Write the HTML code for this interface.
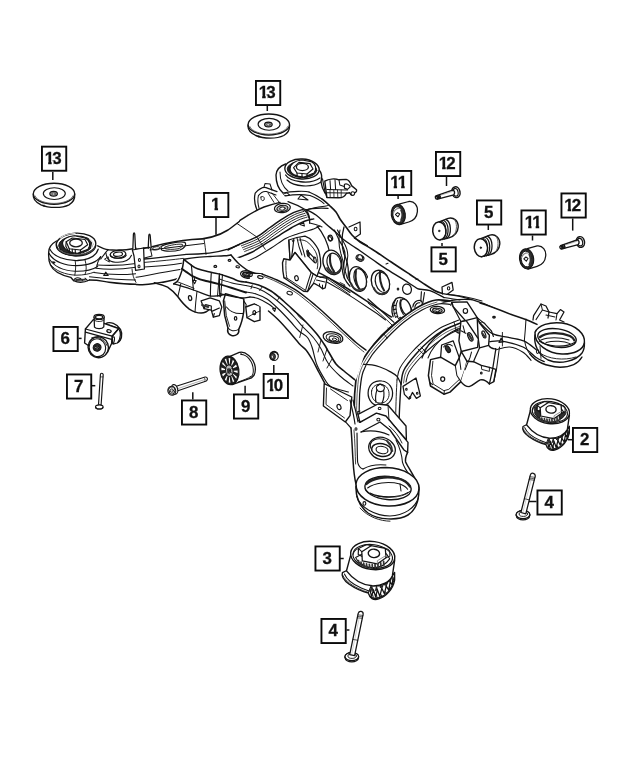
<!DOCTYPE html>
<html><head><meta charset="utf-8"><title>Rear Crossmember Diagram</title>
<style>
html,body{margin:0;padding:0;background:#fff}
body{width:640px;height:777px;overflow:hidden}
svg{display:block;will-change:transform}
.lb{font-family:"Liberation Sans",Arial,sans-serif;font-weight:bold;font-size:16.4px;fill:#111;stroke:#111;stroke-width:.3px}
path,ellipse,line{stroke-linecap:round;stroke-linejoin:round}
</style></head><body>
<svg width="640" height="777" viewBox="0 0 640 777">
<rect width="640" height="777" fill="#fff"/>
<rect x="41.95" y="146.65" width="24.30" height="24.10" fill="#fff" stroke="#0a0a0a" stroke-width="1.9"/>
<text transform="scale(1.03 1)" x="43.36 50.63" y="163.90" class="lb">13</text>
<rect x="44.26" y="161.20" width="3.89" height="3.9" fill="#fff"/>
<rect x="51.70" y="161.20" width="1.88" height="3.9" fill="#fff"/>
<line x1="52.8" y1="172.0" x2="52.8" y2="180.0" stroke="#111" stroke-width="1.5" style="stroke-linecap:butt"/>
<rect x="255.95" y="80.95" width="24.30" height="24.10" fill="#fff" stroke="#0a0a0a" stroke-width="1.9"/>
<text transform="scale(1.03 1)" x="251.12 258.40" y="98.20" class="lb">13</text>
<rect x="258.26" y="95.50" width="3.89" height="3.9" fill="#fff"/>
<rect x="265.70" y="95.50" width="1.88" height="3.9" fill="#fff"/>
<line x1="267.3" y1="106.0" x2="267.3" y2="111.0" stroke="#111" stroke-width="1.5" style="stroke-linecap:butt"/>
<rect x="204.05" y="192.95" width="24.30" height="24.10" fill="#fff" stroke="#0a0a0a" stroke-width="1.9"/>
<text transform="scale(1.03 1)" x="204.86" y="210.20" class="lb">1</text>
<rect x="210.60" y="207.50" width="3.89" height="3.9" fill="#fff"/>
<rect x="218.05" y="207.50" width="2.95" height="3.9" fill="#fff"/>
<line x1="216.0" y1="218.0" x2="216.0" y2="234.7" stroke="#111" stroke-width="1.5" style="stroke-linecap:butt"/>
<rect x="386.95" y="170.95" width="24.30" height="24.10" fill="#fff" stroke="#0a0a0a" stroke-width="1.9"/>
<text transform="scale(1.03 1)" x="378.79 386.07" y="188.20" class="lb">11</text>
<rect x="389.76" y="185.50" width="3.89" height="3.9" fill="#fff"/>
<rect x="397.20" y="185.50" width="1.88" height="3.9" fill="#fff"/>
<rect x="397.25" y="185.50" width="3.89" height="3.9" fill="#fff"/>
<rect x="404.69" y="185.50" width="2.95" height="3.9" fill="#fff"/>
<line x1="398.1" y1="196.0" x2="398.1" y2="199.0" stroke="#111" stroke-width="1.5" style="stroke-linecap:butt"/>
<rect x="435.95" y="151.95" width="24.30" height="24.10" fill="#fff" stroke="#0a0a0a" stroke-width="1.9"/>
<text transform="scale(1.03 1)" x="425.88 433.16" y="169.20" class="lb">12</text>
<rect x="438.26" y="166.50" width="3.89" height="3.9" fill="#fff"/>
<rect x="445.70" y="166.50" width="0.89" height="3.9" fill="#fff"/>
<line x1="446.5" y1="177.0" x2="446.5" y2="186.0" stroke="#111" stroke-width="1.5" style="stroke-linecap:butt"/>
<rect x="476.95" y="200.45" width="24.30" height="24.10" fill="#fff" stroke="#0a0a0a" stroke-width="1.9"/>
<text transform="scale(1.03 1)" x="469.81" y="217.70" class="lb">5</text>
<line x1="488.3" y1="225.0" x2="488.3" y2="230.0" stroke="#111" stroke-width="1.5" style="stroke-linecap:butt"/>
<rect x="431.45" y="247.35" width="24.30" height="24.10" fill="#fff" stroke="#0a0a0a" stroke-width="1.9"/>
<text transform="scale(1.03 1)" x="425.63" y="264.60" class="lb">5</text>
<line x1="442.0" y1="243.0" x2="442.0" y2="246.0" stroke="#111" stroke-width="1.5" style="stroke-linecap:butt"/>
<rect x="521.45" y="210.45" width="24.30" height="24.10" fill="#fff" stroke="#0a0a0a" stroke-width="1.9"/>
<text transform="scale(1.03 1)" x="509.38 516.65" y="227.70" class="lb">11</text>
<rect x="524.26" y="225.00" width="3.89" height="3.9" fill="#fff"/>
<rect x="531.70" y="225.00" width="1.88" height="3.9" fill="#fff"/>
<rect x="531.75" y="225.00" width="3.89" height="3.9" fill="#fff"/>
<rect x="539.19" y="225.00" width="2.95" height="3.9" fill="#fff"/>
<line x1="532.5" y1="235.5" x2="532.5" y2="240.5" stroke="#111" stroke-width="1.5" style="stroke-linecap:butt"/>
<rect x="561.45" y="193.45" width="24.30" height="24.10" fill="#fff" stroke="#0a0a0a" stroke-width="1.9"/>
<text transform="scale(1.03 1)" x="547.73 555.00" y="210.70" class="lb">12</text>
<rect x="563.76" y="208.00" width="3.89" height="3.9" fill="#fff"/>
<rect x="571.20" y="208.00" width="0.89" height="3.9" fill="#fff"/>
<line x1="572.7" y1="218.5" x2="572.7" y2="230.6" stroke="#111" stroke-width="1.5" style="stroke-linecap:butt"/>
<rect x="53.45" y="326.95" width="24.30" height="24.10" fill="#fff" stroke="#0a0a0a" stroke-width="1.9"/>
<text transform="scale(1.03 1)" x="58.64" y="344.20" class="lb">6</text>
<line x1="78.5" y1="338.4" x2="81.6" y2="338.4" stroke="#111" stroke-width="1.5" style="stroke-linecap:butt"/>
<rect x="66.95" y="374.45" width="24.30" height="24.10" fill="#fff" stroke="#0a0a0a" stroke-width="1.9"/>
<text transform="scale(1.03 1)" x="71.75" y="391.70" class="lb">7</text>
<line x1="92.0" y1="385.7" x2="95.3" y2="385.7" stroke="#111" stroke-width="1.5" style="stroke-linecap:butt"/>
<rect x="181.95" y="400.45" width="24.30" height="24.10" fill="#fff" stroke="#0a0a0a" stroke-width="1.9"/>
<text transform="scale(1.03 1)" x="183.40" y="417.70" class="lb">8</text>
<line x1="192.8" y1="392.3" x2="192.8" y2="399.5" stroke="#111" stroke-width="1.5" style="stroke-linecap:butt"/>
<rect x="233.95" y="394.45" width="24.30" height="24.10" fill="#fff" stroke="#0a0a0a" stroke-width="1.9"/>
<text transform="scale(1.03 1)" x="233.89" y="411.70" class="lb">9</text>
<line x1="245.1" y1="385.8" x2="245.1" y2="393.5" stroke="#111" stroke-width="1.5" style="stroke-linecap:butt"/>
<rect x="263.65" y="373.95" width="24.30" height="24.10" fill="#fff" stroke="#0a0a0a" stroke-width="1.9"/>
<text transform="scale(1.03 1)" x="258.60 265.87" y="391.20" class="lb">10</text>
<rect x="265.96" y="388.50" width="3.89" height="3.9" fill="#fff"/>
<rect x="273.40" y="388.50" width="1.88" height="3.9" fill="#fff"/>
<line x1="273.8" y1="365.0" x2="273.8" y2="373.0" stroke="#111" stroke-width="1.5" style="stroke-linecap:butt"/>
<rect x="572.95" y="427.95" width="24.30" height="24.10" fill="#fff" stroke="#0a0a0a" stroke-width="1.9"/>
<text transform="scale(1.03 1)" x="563.01" y="445.20" class="lb">2</text>
<line x1="568.0" y1="439.7" x2="572.0" y2="439.7" stroke="#111" stroke-width="1.5" style="stroke-linecap:butt"/>
<rect x="537.45" y="490.45" width="24.30" height="24.10" fill="#fff" stroke="#0a0a0a" stroke-width="1.9"/>
<text transform="scale(1.03 1)" x="528.55" y="507.70" class="lb">4</text>
<line x1="528.8" y1="501.5" x2="536.5" y2="501.5" stroke="#111" stroke-width="1.5" style="stroke-linecap:butt"/>
<rect x="315.45" y="546.45" width="24.30" height="24.10" fill="#fff" stroke="#0a0a0a" stroke-width="1.9"/>
<text transform="scale(1.03 1)" x="313.01" y="563.70" class="lb">3</text>
<line x1="340.0" y1="558.5" x2="343.7" y2="558.5" stroke="#111" stroke-width="1.5" style="stroke-linecap:butt"/>
<rect x="321.45" y="618.95" width="24.30" height="24.10" fill="#fff" stroke="#0a0a0a" stroke-width="1.9"/>
<text transform="scale(1.03 1)" x="318.84" y="636.20" class="lb">4</text>
<line x1="346.5" y1="630.0" x2="349.4" y2="630.0" stroke="#111" stroke-width="1.5" style="stroke-linecap:butt"/>
<path d="M 33.3 194.3 C 32.8 197.8 35 201.8 41 204.8 C 49 208.3 62 208.3 69 204.8 C 73.5 202.3 75 198.8 74.7 194.3" fill="none" stroke="#141414" stroke-width="1.38" />
<ellipse cx="54.0" cy="193.8" rx="20.7" ry="10.5" fill="#fff" stroke="#141414" stroke-width="1.38"/>
<path d="M 35 195.8 C 37 200.8 46 203.4 54 203.4 C 62 203.4 71 200.8 73 195.8" fill="none" stroke="#555" stroke-width="0.8" />
<path d="M 44 205 L 44 206.4" fill="none" stroke="#141414" stroke-width="0.8" />
<ellipse cx="54.3" cy="193.6" rx="11.0" ry="5.9" fill="none" stroke="#141414" stroke-width="1.15"/>
<ellipse cx="53.6" cy="193.8" rx="3.8" ry="2.4" fill="#999" stroke="#141414" stroke-width="1.15"/>
<ellipse cx="53.6" cy="194.0" rx="1.8" ry="1.1" fill="#ddd" stroke="#444" stroke-width="0.8"/>
<path d="M 248.1 125 C 247.6 128.5 249.8 132.5 255.8 135.5 C 263.8 139 276.8 139 283.8 135.5 C 288.3 133 289.8 129.5 289.5 125" fill="none" stroke="#141414" stroke-width="1.38" />
<ellipse cx="268.8" cy="124.5" rx="20.7" ry="10.5" fill="#fff" stroke="#141414" stroke-width="1.38"/>
<path d="M 249.8 126.5 C 251.8 131.5 260.8 134.1 268.8 134.1 C 276.8 134.1 285.8 131.5 287.8 126.5" fill="none" stroke="#555" stroke-width="0.8" />
<path d="M 258.8 135.7 L 258.8 137.1" fill="none" stroke="#141414" stroke-width="0.8" />
<ellipse cx="269.1" cy="124.3" rx="11.0" ry="5.9" fill="none" stroke="#141414" stroke-width="1.15"/>
<ellipse cx="268.4" cy="124.5" rx="3.8" ry="2.4" fill="#999" stroke="#141414" stroke-width="1.15"/>
<ellipse cx="268.4" cy="124.7" rx="1.8" ry="1.1" fill="#ddd" stroke="#444" stroke-width="0.8"/>
<path d="M 399 204.2 L 408.8 201.5 C 414.5 200.8 418 206 417.4 211.6 C 416.8 217.3 413 220.8 408.8 222 L 399.7 224.7 Z" fill="#fff" stroke="#141414" stroke-width="1.26" />
<ellipse cx="398.3" cy="214.5" rx="7.0" ry="10.1" fill="#2a2a2a" stroke="#141414" stroke-width="1.15" transform="rotate(-8 398.3 214.5)"/>
<ellipse cx="398.0" cy="214.6" rx="5.1" ry="7.9" fill="#fff" stroke="#141414" stroke-width="0.92" transform="rotate(-8 398.0 214.6)"/>
<path d="M 393.4 213 C 394.1 210.2 396.9 208.1 399.7 208.5" fill="none" stroke="#888" stroke-width="1.15" />
<path d="M 395.5 214.5 L 397.6 212.6 L 399.7 214 L 398 216.8 Z" fill="#fff" stroke="#141414" stroke-width="1.03" />
<path d="M 401.1 210.2 C 402.5 213 402.5 217.3 401.1 220.1" fill="none" stroke="#333" stroke-width="1.84" />
<ellipse cx="455.9" cy="192.2" rx="4.1" ry="5.4" fill="#fff" stroke="#141414" stroke-width="1.49" transform="rotate(-12 455.9 192.2)"/>
<ellipse cx="455.5" cy="192.3" rx="2.6" ry="3.8" fill="#fff" stroke="#141414" stroke-width="1.15" transform="rotate(-12 455.5 192.3)"/>
<path d="M 436 195.9 L 452.5 190.2 C 454.2 190 455.5 192.5 453.8 194.8 L 437.5 199.1 C 435.5 199.5 434.6 196.9 436 195.9 Z" fill="#fff" stroke="#141414" stroke-width="1.38" />
<path d="M 436.4 196.1 C 437.4 196.9 437.7 198.1 437.4 198.9 M 438 195.6 C 438.8 196.4 439 197.6 438.8 198.6 M 439.6 195.1 C 440.2 195.9 440.5 197 440.2 198.1" fill="none" stroke="#141414" stroke-width="1.49" />
<path d="M 441.4 195 L 452.7 191.4" fill="none" stroke="#888" stroke-width="0.57" />
<path d="M 439.1 221.9 L 448.2 218.3 C 453.8 216.8 458.5 221.1 458.2 227.1 C 457.8 233.2 453.1 236.5 448.9 237.9 L 440.2 239.9 Z" fill="#fff" stroke="#141414" stroke-width="1.38" />
<ellipse cx="439.3" cy="230.9" rx="6.6" ry="9.0" fill="#fff" stroke="#141414" stroke-width="1.49" transform="rotate(-6 439.3 230.9)"/>
<path d="M 443.6 220.5 C 448.9 222.9 449.8 234.6 444.7 239.1" fill="none" stroke="#141414" stroke-width="1.26" />
<path d="M 445.8 219.4 C 451.4 221.9 452 234.1 446.9 238.5" fill="none" stroke="#141414" stroke-width="1.26" />
<path d="M 441.6 221.3 C 446.9 223.6 447.5 235.1 442.7 239.6" fill="none" stroke="#141414" stroke-width="1.03" />
<path d="M 454.3 219.4 C 457.3 222.5 457.3 230.6 454.1 235.1" fill="none" stroke="#555" stroke-width="0.92" />
<ellipse cx="439.2" cy="230.9" rx="0.8" ry="0.9" fill="#222" stroke="#141414" stroke-width="0.57"/>
<path d="M 480.7 238.7 L 489.8 235.1 C 495.4 233.6 500.1 237.9 499.8 243.9 C 499.4 250 494.7 253.3 490.5 254.7 L 481.8 256.7 Z" fill="#fff" stroke="#141414" stroke-width="1.38" />
<ellipse cx="480.9" cy="247.7" rx="6.6" ry="9.0" fill="#fff" stroke="#141414" stroke-width="1.49" transform="rotate(-6 480.9 247.7)"/>
<path d="M 485.2 237.3 C 490.5 239.7 491.4 251.4 486.3 255.9" fill="none" stroke="#141414" stroke-width="1.26" />
<path d="M 487.4 236.2 C 493 238.7 493.6 250.9 488.5 255.3" fill="none" stroke="#141414" stroke-width="1.26" />
<path d="M 483.2 238.1 C 488.5 240.4 489.1 251.9 484.3 256.4" fill="none" stroke="#141414" stroke-width="1.03" />
<path d="M 495.9 236.2 C 498.9 239.3 498.9 247.4 495.7 251.9" fill="none" stroke="#555" stroke-width="0.92" />
<ellipse cx="480.8" cy="247.7" rx="0.8" ry="0.9" fill="#222" stroke="#141414" stroke-width="0.57"/>
<path d="M 527.3 248.6 L 537.1 245.9 C 542.8 245.2 546.3 250.4 545.7 256 C 545.1 261.7 541.3 265.2 537.1 266.4 L 528 269.1 Z" fill="#fff" stroke="#141414" stroke-width="1.26" />
<ellipse cx="526.6" cy="258.9" rx="7.0" ry="10.1" fill="#2a2a2a" stroke="#141414" stroke-width="1.15" transform="rotate(-8 526.6 258.9)"/>
<ellipse cx="526.3" cy="259.0" rx="5.1" ry="7.9" fill="#fff" stroke="#141414" stroke-width="0.92" transform="rotate(-8 526.3 259.0)"/>
<path d="M 521.7 257.4 C 522.4 254.6 525.2 252.5 528 252.9" fill="none" stroke="#888" stroke-width="1.15" />
<path d="M 523.8 258.9 L 525.9 257 L 528 258.4 L 526.3 261.2 Z" fill="#fff" stroke="#141414" stroke-width="1.03" />
<path d="M 529.4 254.6 C 530.8 257.4 530.8 261.7 529.4 264.5" fill="none" stroke="#333" stroke-width="1.84" />
<ellipse cx="580.4" cy="242.0" rx="4.1" ry="5.4" fill="#fff" stroke="#141414" stroke-width="1.49" transform="rotate(-12 580.4 242.0)"/>
<ellipse cx="580.0" cy="242.1" rx="2.6" ry="3.8" fill="#fff" stroke="#141414" stroke-width="1.15" transform="rotate(-12 580.0 242.1)"/>
<path d="M 560.5 245.7 L 577 240 C 578.8 239.8 580 242.3 578.2 244.6 L 562 248.9 C 560 249.3 559.1 246.7 560.5 245.7 Z" fill="#fff" stroke="#141414" stroke-width="1.38" />
<path d="M 560.9 245.9 C 561.9 246.7 562.2 247.9 561.9 248.7 M 562.5 245.4 C 563.2 246.2 563.5 247.4 563.2 248.4 M 564.1 244.9 C 564.8 245.7 565 246.8 564.8 247.9" fill="none" stroke="#141414" stroke-width="1.49" />
<path d="M 565.9 244.8 L 577.2 241.2" fill="none" stroke="#888" stroke-width="0.57" />
<path d="M 105.5 323.8 C 109.7 321 117.2 323.8 120.5 329.4 C 122.9 334.1 121.9 340.7 117.2 343 L 113 344.2 L 112.1 336.2 L 118.7 328.5 Z" fill="#fff" stroke="#141414" stroke-width="1.26" />
<path d="M 118.7 328.5 C 120.8 332.2 120.8 337.9 117.7 342.7" fill="none" stroke="#141414" stroke-width="1.15" />
<path d="M 119.9 330.6 C 121.7 334.1 121.5 338.8 119.3 341.6" fill="none" stroke="#141414" stroke-width="0.92" />
<path d="M 85.4 329 L 93.3 319.6 L 118.7 328.5 L 112.1 336.2 L 111.6 343.5 L 107.4 352.4 L 88.7 345.8 L 84.6 343 Z" fill="#fff" stroke="#141414" stroke-width="1.38" />
<path d="M 85.4 329 L 112.1 336.2" fill="none" stroke="#141414" stroke-width="1.26" />
<path d="M 85.4 332.1 L 111.6 339.4" fill="none" stroke="#141414" stroke-width="1.15" />
<path d="M 112.1 336.2 L 118.7 328.5" fill="none" stroke="#141414" stroke-width="1.15" />
<ellipse cx="113.3" cy="340.2" rx="1.1" ry="3.4" fill="none" stroke="#141414" stroke-width="1.03" transform="rotate(8 113.3 340.2)"/>
<ellipse cx="109.0" cy="331.1" rx="2.2" ry="1.4" fill="#fff" stroke="#141414" stroke-width="1.15" transform="rotate(15 109.0 331.1)"/>
<path d="M 107.1 331.5 C 107.9 332.6 109.9 332.8 110.9 331.9" fill="none" stroke="#141414" stroke-width="0.8" />
<path d="M 94.1 317.1 L 94.5 327.1 C 96.2 329.2 102.2 329.2 103.8 326.8 L 104.1 317.1 Z" fill="#fff" stroke="#141414" stroke-width="1.26" />
<ellipse cx="99.1" cy="316.9" rx="5.1" ry="2.5" fill="#fff" stroke="#141414" stroke-width="1.26"/>
<ellipse cx="99.1" cy="317.1" rx="3.6" ry="1.8" fill="#fff" stroke="#141414" stroke-width="1.15"/>
<path d="M 94.3 320.1 C 96.2 322.1 102.2 322.1 104 319.9" fill="none" stroke="#141414" stroke-width="0.92" />
<ellipse cx="98.3" cy="347.2" rx="10.1" ry="10.5" fill="#fff" stroke="#141414" stroke-width="1.38" transform="rotate(-20 98.3 347.2)"/>
<ellipse cx="97.4" cy="347.7" rx="8.2" ry="9.0" fill="#fff" stroke="#141414" stroke-width="1.15" transform="rotate(-20 97.4 347.7)"/>
<path d="M 91.5 337.9 C 96.6 335.5 104.1 338.8 106.9 345.4" fill="none" stroke="#141414" stroke-width="0.92" />
<ellipse cx="97.1" cy="347.4" rx="3.9" ry="3.7" fill="#333" stroke="#141414" stroke-width="1.15" transform="rotate(-20 97.1 347.4)"/>
<ellipse cx="97.1" cy="347.4" rx="2.1" ry="1.9" fill="#ddd" stroke="#141414" stroke-width="0.92"/>
<path d="M 95.2 345.8 L 99 349.1 M 99 345.8 L 95.2 349.1" fill="none" stroke="#141414" stroke-width="1.15" />
<path d="M 100.4 374.6 C 100.4 372.8 103 372.8 103.2 374.6 L 101.1 405 L 98.5 405 Z" fill="#fff" stroke="#141414" stroke-width="1.15" />
<path d="M 100.4 376.9 L 103 376.9" fill="none" stroke="#141414" stroke-width="0.69" />
<ellipse cx="99.3" cy="406.9" rx="3.8" ry="2.1" fill="#fff" stroke="#141414" stroke-width="1.15"/>
<path d="M 95.9 407.3 C 96.3 409.5 102.3 409.5 102.8 407.3" fill="none" stroke="#141414" stroke-width="1.15" />
<path d="M 230 356.3 L 239.3 352.4 C 244.8 351 253.6 357 255.2 366.9 C 256 373.4 253.6 377.8 248.6 378.9 L 232.2 384.6 Z" fill="#fff" stroke="#141414" stroke-width="1.26" />
<path d="M 240.7 354.6 C 247 354.3 252.7 361.4 253.3 369.6 C 253.6 373.7 252.2 376.2 250.3 376.9" fill="none" stroke="#141414" stroke-width="1.03" />
<path d="M 239.3 352.4 C 240.7 352.7 241.5 353.5 242.1 354.6" fill="none" stroke="#141414" stroke-width="0.92" />
<path d="M 238.2 382 C 243.7 380 248.1 378.4 250.5 376.7" fill="none" stroke="#141414" stroke-width="0.92" />
<ellipse cx="229.5" cy="370.4" rx="9.4" ry="14.4" fill="#1e1e1e" stroke="#141414" stroke-width="1.15" transform="rotate(-8 229.5 370.4)"/>
<path d="M 233.4 370.7 L 237.6 370.6 L 237.6 373.1 L 233.4 371.5 Z" fill="#fff" stroke="none" stroke-width="0.0" />
<path d="M 233.1 373.8 L 236.9 376.8 L 236.2 378.8 L 232.9 374.3 Z" fill="#fff" stroke="none" stroke-width="0.0" />
<path d="M 231.7 375.8 L 234.3 381.2 L 232.9 382.2 L 231.2 376.1 Z" fill="#fff" stroke="none" stroke-width="0.0" />
<path d="M 229.7 376.4 L 230.4 382.7 L 228.7 382.5 L 229.3 376.4 Z" fill="#fff" stroke="none" stroke-width="0.0" />
<path d="M 227.7 375.4 L 226.2 381 L 224.8 379.6 L 227.3 375 Z" fill="#fff" stroke="none" stroke-width="0.0" />
<path d="M 226.2 373.1 L 222.9 376.4 L 222.1 374.1 L 225.9 372.5 Z" fill="#fff" stroke="none" stroke-width="0.0" />
<path d="M 225.6 370 L 221.4 370.2 L 221.4 367.6 L 225.6 369.3 Z" fill="#fff" stroke="none" stroke-width="0.0" />
<path d="M 225.9 367 L 222.1 363.9 L 222.8 362 L 226.1 366.4 Z" fill="#fff" stroke="none" stroke-width="0.0" />
<path d="M 227.3 364.9 L 224.7 359.5 L 226.1 358.6 L 227.7 364.7 Z" fill="#fff" stroke="none" stroke-width="0.0" />
<path d="M 229.3 364.4 L 228.6 358 L 230.3 358.2 L 229.7 364.4 Z" fill="#fff" stroke="none" stroke-width="0.0" />
<path d="M 231.2 365.3 L 232.8 359.8 L 234.2 361.2 L 231.7 365.8 Z" fill="#fff" stroke="none" stroke-width="0.0" />
<path d="M 232.8 367.6 L 236.1 364.4 L 236.9 366.7 L 233.1 368.3 Z" fill="#fff" stroke="none" stroke-width="0.0" />
<ellipse cx="229.3" cy="370.7" rx="3.7" ry="5.7" fill="#bbb" stroke="#141414" stroke-width="1.03" transform="rotate(-8 229.3 370.7)"/>
<ellipse cx="229.1" cy="371.0" rx="1.6" ry="2.4" fill="#555" stroke="#141414" stroke-width="0.69" transform="rotate(-8 229.1 371.0)"/>
<path d="M 226.8 368.5 L 231.7 372.9 M 227.3 373.4 L 231.5 368.2" fill="none" stroke="#141414" stroke-width="0.8" />
<ellipse cx="274.1" cy="355.9" rx="4.2" ry="4.6" fill="#fff" stroke="#141414" stroke-width="1.15"/>
<path d="M 270.3 354.6 C 271.1 351.6 276.5 351 277.8 354.6" fill="none" stroke="#141414" stroke-width="1.03" />
<ellipse cx="272.7" cy="356.5" rx="2.6" ry="3.1" fill="#555" stroke="#141414" stroke-width="1.03"/>
<ellipse cx="272.5" cy="356.8" rx="1.2" ry="1.5" fill="#ddd" stroke="#141414" stroke-width="0.57"/>
<path d="M 176.3 386.3 L 205.1 377 C 207.5 376.6 208.3 379.8 206.3 381 L 177.9 390.8 Z" fill="#fff" stroke="#141414" stroke-width="1.15" />
<path d="M 203.7 377.4 C 205.1 378.6 205.5 380.2 204.7 381.4" fill="none" stroke="#141414" stroke-width="0.69" />
<path d="M 177.3 388.8 L 205.7 379.2" fill="none" stroke="#777" stroke-width="0.57" />
<ellipse cx="174.6" cy="389.4" rx="3.0" ry="4.9" fill="#fff" stroke="#141414" stroke-width="1.15" transform="rotate(-15 174.6 389.4)"/>
<ellipse cx="171.8" cy="390.8" rx="3.9" ry="4.5" fill="#fff" stroke="#141414" stroke-width="1.15" transform="rotate(-15 171.8 390.8)"/>
<path d="M 168.5 389.2 L 170.6 386.7 L 173.8 387.1 L 175.2 390.4 L 173.4 394 L 170.2 394 Z" fill="#fff" stroke="#141414" stroke-width="1.03" />
<ellipse cx="171.8" cy="390.6" rx="1.6" ry="1.8" fill="#ccc" stroke="#141414" stroke-width="0.8"/>
<path d="M 526.9 424.5 L 523 426.5 C 522 429.2 524.1 433.1 529 436.8 C 534.8 440.9 541.6 443.6 546 444.5 C 547.3 449.1 550.4 451.4 555.2 449.8 C 562.1 447.7 567.9 440.9 569.3 433.1 L 569.3 426.3 L 567.4 429.2 Z" fill="#fff" stroke="#141414" stroke-width="1.38" />
<path d="M 524.7 427.6 C 526.6 432.1 532.9 437.2 539.7 440.1 C 542.6 441.3 545 442.3 546.7 442.8" fill="none" stroke="#141414" stroke-width="1.03" />
<path d="M 523.4 429 C 525.3 433.6 532.4 438.7 539.7 441.6 C 542.4 442.8 544.6 443.6 546 444" fill="none" stroke="#141414" stroke-width="0.8" />
<path d="M 546 444.4 C 547.5 448.6 550.4 450.4 555.1 449 C 561.3 447.1 567.1 440.7 568.7 433.6 L 567.4 429.2 C 565.5 434 561.1 437.5 555.2 438.4 L 548.4 438.1 Z" fill="#fff" stroke="#141414" stroke-width="1.03" />
<path d="M 547.7 442.8 L 548.9 447.5 L 550.6 441.8 L 552.5 448 L 554.1 441.6 L 556.2 447.5 L 558 440.4 L 560.3 445.2 L 561.9 438.4 L 564.2 442 L 565.5 434.5 L 567.1 437.5 L 567.9 431.1" fill="none" stroke="#141414" stroke-width="1.26" />
<path d="M 547.7 442.8 L 549 438.9 L 550.6 441.8 Z M 552.5 442.3 L 554.1 441.6 L 553.3 438.9 Z M 558 440.4 L 559.1 437.9 L 556.4 438.9 Z M 561.9 438.4 L 563.2 435.2 L 560.6 437 Z M 565.5 434.5 L 566.4 431.6 L 564.5 433.6 Z" fill="#333" stroke="#141414" stroke-width="0.92" />
<path d="M 548.4 448.6 C 551.4 449.8 555.2 448.8 558.2 447.2 M 549.9 446.2 L 550.4 448.6 M 553.3 446.7 L 553.8 449.2 M 557.2 445.7 L 558 447.7 M 561.1 443.3 L 562.1 444.9 M 564.5 439.9 L 565.7 441" fill="none" stroke="#141414" stroke-width="0.92" />
<path d="M 530.5 410.2 L 526.6 424.8 C 532.9 433.1 541.6 437.5 549.4 438.1 C 558.2 438.4 565 434.5 567.4 429.2 L 569.4 415.1 Z" fill="#fff" stroke="#141414" stroke-width="1.38" />
<ellipse cx="549.9" cy="411.2" rx="19.7" ry="12.4" fill="#fff" stroke="#141414" stroke-width="1.38" transform="rotate(8 549.9 411.2)"/>
<ellipse cx="549.9" cy="412.0" rx="17.7" ry="10.5" fill="#fff" stroke="#141414" stroke-width="1.15" transform="rotate(8 549.9 412.0)"/>
<path d="M 534.6 412.9 C 536.3 417 541.6 420.6 548.4 421.9 C 555.2 422.6 561.3 419.5 565 414.1 L 562.1 409.7 L 540.7 409.7 Z" fill="#fff" stroke="#141414" stroke-width="1.15" />
<path d="M 537.3 415.8 L 537.6 418.5 M 539.5 417 L 539.9 420 M 541.8 418 L 542.2 421 M 544.4 418.7 L 544.7 421.6 M 546.9 419.1 L 547.3 421.9 M 549.4 419.3 L 549.6 422.2 M 551.9 419.1 L 552.1 422.2 M 554.5 418.7 L 554.7 421.8 M 557 417.7 L 557.2 421 M 559.5 416.4 L 559.7 419.9" fill="none" stroke="#333" stroke-width="1.72" />
<path d="M 534.3 407.3 C 533.7 411.2 535.3 415.1 539.2 418 L 540.7 415.8 L 540.2 411.9 L 537 410.2 L 537.2 405.9 Z" fill="#2e2e2e" stroke="#141414" stroke-width="0.69" />
<path d="M 565.2 411.7 L 561.7 413.2 L 559.1 415.4 L 560.6 419 C 563.5 417.5 565.5 415.1 566.1 412.7 Z" fill="#2e2e2e" stroke="#141414" stroke-width="0.69" />
<path d="M 540.2 407.8 L 548.4 402.5 L 561.1 404.9 L 561.7 413.2 L 553.9 418.7 L 540.7 416 Z" fill="#fff" stroke="#141414" stroke-width="1.26" />
<path d="M 548.4 402.5 L 544.6 401.4 L 537.3 405.1 L 537 410.2 L 540.2 411.9" fill="none" stroke="#141414" stroke-width="1.15" />
<path d="M 537.3 405.1 L 540.2 407.8" fill="none" stroke="#141414" stroke-width="1.03" />
<path d="M 561.1 404.9 C 562.8 404.9 564.2 405.9 565 407.3 L 565.2 411.7 L 561.7 413.2" fill="none" stroke="#141414" stroke-width="1.03" />
<path d="M 532.4 410.2 C 533.1 407.8 534.8 405.9 537.3 404.9" fill="none" stroke="#141414" stroke-width="0.92" />
<ellipse cx="551.0" cy="409.4" rx="5.1" ry="3.7" fill="#fff" stroke="#141414" stroke-width="1.38" transform="rotate(5 551.0 409.4)"/>
<path d="M 553.9 418.7 L 554.1 415.8 L 561.7 411.2" fill="none" stroke="#777" stroke-width="0.8" />
<ellipse cx="523.0" cy="514.8" rx="6.8" ry="4.1" fill="#fff" stroke="#141414" stroke-width="1.26"/>
<path d="M 516.2 515.1 C 516.5 521.6 529.5 521.6 529.8 515.1" fill="#fff" stroke="#141414" stroke-width="1.26" />
<ellipse cx="523.0" cy="514.6" rx="6.8" ry="4.1" fill="#fff" stroke="#141414" stroke-width="1.26"/>
<ellipse cx="523.3" cy="514.0" rx="4.2" ry="2.4" fill="#fff" stroke="#141414" stroke-width="0.92"/>
<path d="M 535.2 476.4 C 535.7 473.1 531.4 472 530.3 475.1 L 520.9 512.5 L 525.8 513.8 Z" fill="#fff" stroke="#141414" stroke-width="1.26" />
<path d="M 534.9 477.3 L 529.9 476.7" fill="none" stroke="#141414" stroke-width="0.69" />
<path d="M 534.6 478.8 L 529.6 478.2" fill="none" stroke="#141414" stroke-width="0.69" />
<path d="M 534.2 480.2 L 529.2 479.6" fill="none" stroke="#141414" stroke-width="0.69" />
<path d="M 529.3 499.9 L 524.4 498.7" fill="none" stroke="#141414" stroke-width="0.8" />
<path d="M 531.8 477.1 L 523.1 511.5" fill="none" stroke="#999" stroke-width="0.46" />
<ellipse cx="351.8" cy="656.8" rx="6.8" ry="4.1" fill="#fff" stroke="#141414" stroke-width="1.26"/>
<path d="M 345 657.1 C 345.3 663.6 358.3 663.6 358.6 657.1" fill="#fff" stroke="#141414" stroke-width="1.26" />
<ellipse cx="351.8" cy="656.6" rx="6.8" ry="4.1" fill="#fff" stroke="#141414" stroke-width="1.26"/>
<ellipse cx="352.1" cy="656.0" rx="4.2" ry="2.4" fill="#fff" stroke="#141414" stroke-width="0.92"/>
<path d="M 363.1 614.4 C 363.6 611.1 359.2 610.2 358.2 613.4 L 349.7 654.6 L 354.6 655.6 Z" fill="#fff" stroke="#141414" stroke-width="1.26" />
<path d="M 362.9 615.4 L 357.9 614.9" fill="none" stroke="#141414" stroke-width="0.69" />
<path d="M 362.6 616.8 L 357.6 616.4" fill="none" stroke="#141414" stroke-width="0.69" />
<path d="M 362.3 618.3 L 357.3 617.9" fill="none" stroke="#141414" stroke-width="0.69" />
<path d="M 357.7 640.3 L 352.8 639.3" fill="none" stroke="#141414" stroke-width="0.8" />
<path d="M 359.8 615.2 L 351.8 653.5" fill="none" stroke="#999" stroke-width="0.46" />
<path d="M 346.8 570.5 L 342.4 572.7 C 341.3 575.7 343.7 580.1 349.2 584.3 C 355.8 588.9 363.4 591.9 368.4 593 C 369.8 598.2 373.3 600.7 378.7 598.9 C 386.4 596.5 393 588.9 394.6 580.1 L 394.6 572.5 L 392.4 575.7 Z" fill="#fff" stroke="#141414" stroke-width="1.38" />
<path d="M 344.4 574 C 346.5 579 353.6 584.7 361.2 588 C 364.5 589.4 367.3 590.5 369.1 591.1" fill="none" stroke="#141414" stroke-width="1.03" />
<path d="M 342.9 575.5 C 345.1 580.7 353 586.5 361.2 589.7 C 364.3 591.1 366.7 591.9 368.4 592.4" fill="none" stroke="#141414" stroke-width="0.8" />
<path d="M 368.4 592.8 C 370 597.6 373.3 599.6 378.5 598.1 C 385.5 595.9 392.1 588.7 393.8 580.7 L 392.4 575.7 C 390.2 581.2 385.3 585 378.7 586.1 L 371.1 585.8 Z" fill="#fff" stroke="#141414" stroke-width="1.03" />
<path d="M 370.2 591.1 L 371.6 596.3 L 373.5 590 L 375.7 597 L 377.4 589.7 L 379.8 596.3 L 381.8 588.3 L 384.4 593.8 L 386.2 586.1 L 388.8 590.2 L 390.2 581.8 L 392.1 585 L 393 577.9" fill="none" stroke="#141414" stroke-width="1.26" />
<path d="M 370.2 591.1 L 371.7 586.7 L 373.5 590 Z M 375.7 590.5 L 377.4 589.7 L 376.6 586.7 Z M 381.8 588.3 L 383.1 585.6 L 380.1 586.7 Z M 386.2 586.1 L 387.7 582.5 L 384.8 584.5 Z M 390.2 581.8 L 391.3 578.5 L 389.1 580.7 Z" fill="#333" stroke="#141414" stroke-width="0.92" />
<path d="M 371.1 597.6 C 374.4 598.9 378.7 597.8 382 596 M 372.7 594.9 L 373.3 597.6 M 376.6 595.4 L 377.1 598.3 M 380.9 594.3 L 381.8 596.5 M 385.3 591.6 L 386.4 593.5 M 389.1 587.8 L 390.6 589.1" fill="none" stroke="#141414" stroke-width="0.92" />
<path d="M 350.9 554.4 L 346.5 570.8 C 353.6 580.1 363.4 585 372.2 585.8 C 382 586.1 389.7 581.8 392.4 575.7 L 394.7 559.9 Z" fill="#fff" stroke="#141414" stroke-width="1.38" />
<ellipse cx="372.7" cy="555.5" rx="22.2" ry="14.0" fill="#fff" stroke="#141414" stroke-width="1.38" transform="rotate(8 372.7 555.5)"/>
<ellipse cx="372.7" cy="556.4" rx="19.9" ry="11.8" fill="#fff" stroke="#141414" stroke-width="1.15" transform="rotate(8 372.7 556.4)"/>
<path d="M 355.6 557.4 C 357.4 562.1 363.4 566.1 371.1 567.5 C 378.7 568.3 385.5 564.8 389.7 558.8 L 386.4 553.9 L 362.3 553.9 Z" fill="#fff" stroke="#141414" stroke-width="1.15" />
<path d="M 358.5 560.7 L 358.8 563.7 M 361 562.1 L 361.5 565.4 M 363.7 563.2 L 364.1 566.6 M 366.5 563.9 L 366.9 567.2 M 369.3 564.4 L 369.8 567.5 M 372.2 564.6 L 372.4 567.9 M 375 564.4 L 375.2 567.9 M 377.9 563.9 L 378.1 567.4 M 380.7 562.8 L 380.9 566.6 M 383.6 561.3 L 383.8 565.2" fill="none" stroke="#333" stroke-width="1.72" />
<path d="M 361.8 551.7 L 371.1 545.7 L 385.3 548.4 L 386 557.8 L 377.2 563.9 L 362.3 560.9 Z" fill="#fff" stroke="#141414" stroke-width="1.26" />
<path d="M 371.1 545.7 L 366.7 544.5 L 358.5 548.6 L 358.2 554.4 L 361.8 556.3" fill="none" stroke="#141414" stroke-width="1.15" />
<path d="M 358.5 548.6 L 361.8 551.7" fill="none" stroke="#141414" stroke-width="1.03" />
<path d="M 385.3 548.4 C 387.3 548.4 388.8 549.5 389.7 551.1 L 389.9 556.1 L 386 557.8" fill="none" stroke="#141414" stroke-width="1.03" />
<path d="M 353 554.4 C 353.8 551.7 355.8 549.5 358.5 548.4" fill="none" stroke="#141414" stroke-width="0.92" />
<ellipse cx="373.9" cy="553.4" rx="5.7" ry="4.2" fill="#fff" stroke="#141414" stroke-width="1.38" transform="rotate(5 373.9 553.4)"/>
<path d="M 377.2 563.9 L 377.4 560.7 L 386 555.5" fill="none" stroke="#777" stroke-width="0.8" />
<path d="M 49.3 249.2 C 50.5 242.5 58 236.5 67 234.2 C 79 232 92.5 236.5 97.7 245.5 L 106 249.2 L 136 249.2 L 136 284.5 L 107.5 282.2 L 89.5 278.8 L 87.7 280.7 L 76 282.2 L 70.7 277.7 C 59.5 275.5 51.2 271 49.3 262 Z" fill="#fff" stroke="none" stroke-width="0.0" />
<path d="M 56.5 241 C 51.2 244 48.7 248.5 48.7 252.2 C 48.4 257.5 49 262 50.5 265 C 53.5 271.7 62.5 275.5 70.7 277.3 L 73.7 280.7 C 79 283.3 85 282.2 89.5 280" fill="none" stroke="#141414" stroke-width="1.38" />
<path d="M 73.7 280.7 C 74.5 277.7 77.5 277 80.5 278.5 M 80.5 278.5 L 82.7 280.7 M 85 278.2 L 87.7 280.7" fill="none" stroke="#141414" stroke-width="1.03" />
<path d="M 76 280 L 85 279.7" fill="none" stroke="#333" stroke-width="1.84" />
<path d="M 49.9 249.2 C 53.5 256.7 65.5 260.8 77.5 260.5 C 88 259.9 96.2 256 98.2 249.2" fill="none" stroke="#141414" stroke-width="1.26" />
<path d="M 49 253.3 C 53.5 262 65.5 265.7 76.7 265.7 C 88 265.4 97 262 100.7 256.7" fill="none" stroke="#141414" stroke-width="1.26" />
<path d="M 49.3 259 C 54.2 266.5 64 270.7 75.2 271.3 C 85 271.6 92.5 269.8 97.7 266.5" fill="none" stroke="#141414" stroke-width="1.03" />
<path d="M 50.2 264.2 C 55 271 65.5 274.7 76 275.2 C 83.5 275.2 89.5 274 94 272.2" fill="none" stroke="#141414" stroke-width="0.92" />
<path d="M 52.7 261.7 L 55 262.3 L 53.8 263.5 Z" fill="none" stroke="#141414" stroke-width="1.03" />
<path d="M 75.2 260.8 C 76 265 75.7 271 74.8 275.2" fill="none" stroke="#141414" stroke-width="0.92" />
<path d="M 85 259.7 C 86.5 265 86.8 271 85 274.6" fill="none" stroke="#141414" stroke-width="0.92" />
<ellipse cx="76.0" cy="244.3" rx="19.8" ry="11.1" fill="#fff" stroke="#141414" stroke-width="1.38" transform="rotate(-3 76.0 244.3)"/>
<ellipse cx="75.7" cy="244.9" rx="17.1" ry="9.0" fill="#262626" stroke="#141414" stroke-width="0.92" transform="rotate(-3 75.7 244.9)"/>
<path d="M 56.5 244.7 C 56.8 250 64 255.2 76 256 C 88 256 95.2 250.7 95.8 245.5" fill="none" stroke="#141414" stroke-width="1.26" />
<path d="M 58.3 249.2 C 62.5 253.3 70 255.2 77.5 254.8 C 86.5 254.2 92.5 251.5 94.7 247.7" fill="none" stroke="#555" stroke-width="0.92" />
<path d="M 62.5 243.2 C 62.5 238.7 68.5 236.2 74.5 235.7 L 85 238 C 90.2 240.2 91 245.5 88 249.2 L 77.5 253.3 C 70 253.3 63.2 249.2 62.5 243.2 Z" fill="#fff" stroke="#141414" stroke-width="1.15" />
<path d="M 66.2 241.7 L 72.2 238 L 85 239.5 L 87.7 244.7 L 80.5 250 L 69.2 248.8 Z" fill="#fff" stroke="#141414" stroke-width="1.15" />
<ellipse cx="76.0" cy="242.9" rx="6.3" ry="3.9" fill="#fff" stroke="#141414" stroke-width="1.26"/>
<path d="M 66.2 241.7 L 65.8 246.2 L 69.2 252.7 M 69.2 248.8 L 69.7 252.7 M 80.5 250 L 80.2 253.3 M 72.2 249.2 L 72.4 252.7 M 75.2 249.7 L 75.4 253.3" fill="none" stroke="#141414" stroke-width="1.15" />
<path d="M 60.2 238 C 64 235 70 233.5 75.2 233.5" fill="none" stroke="#ddd" stroke-width="1.03" />
<path d="M 89.5 238.7 L 92.8 242.5 L 91.7 247.7" fill="none" stroke="#eee" stroke-width="1.15" />
<path d="M 97.7 245.8 C 101.5 247.7 104.5 249.2 108.2 249.7 C 118 250.7 128.5 249.7 136 248.2" fill="none" stroke="#141414" stroke-width="1.38" />
<path d="M 108.2 249.7 C 104.5 253.3 102.2 257.5 100.7 259" fill="none" stroke="#141414" stroke-width="1.15" />
<path d="M 100.7 256.7 C 99.2 259 97 263.5 96.7 266.8" fill="none" stroke="#141414" stroke-width="1.03" />
<ellipse cx="118.0" cy="254.2" rx="7.8" ry="3.9" fill="#fff" stroke="#141414" stroke-width="1.26" transform="rotate(-5 118.0 254.2)"/>
<ellipse cx="118.0" cy="254.2" rx="4.5" ry="2.1" fill="#fff" stroke="#141414" stroke-width="1.15" transform="rotate(-5 118.0 254.2)"/>
<path d="M 110.2 254.8 C 110.5 259 124 259.7 126.2 255.2" fill="none" stroke="#141414" stroke-width="1.15" />
<path d="M 106 253 C 106.7 260.5 110.5 262.3 118 262.3 C 125.5 262 130 259 131.5 255.2" fill="none" stroke="#141414" stroke-width="1.03" />
<path d="M 104.8 259 L 108.2 256.7 L 109.3 261.7 Z" fill="none" stroke="#141414" stroke-width="0.92" />
<path d="M 97 265 C 107.5 265.7 121 265.7 136 263.5" fill="none" stroke="#141414" stroke-width="1.15" />
<path d="M 95.8 268.3 C 107.5 269.8 121 269.5 136 267.2" fill="none" stroke="#141414" stroke-width="1.03" />
<path d="M 94 272.5 C 106 274.7 121 275.2 136 273.7" fill="none" stroke="#141414" stroke-width="1.03" />
<path d="M 89.5 280 C 100 280 103 281.5 109 282.2 C 118 283.3 128.5 284.2 136 284.2" fill="none" stroke="#141414" stroke-width="1.38" />
<path d="M 89.5 276.7 C 103 278.2 121 280 136 280" fill="none" stroke="#141414" stroke-width="1.03" />
<path d="M 103.7 275.5 L 105.7 272.2 L 108.2 275.5 Z" fill="none" stroke="#141414" stroke-width="1.15" />
<path d="M 136 249.2 L 148 247.6 L 186 240 L 216 237 L 232 228 L 248 215 L 248 318 L 212 318 L 180 302 L 154 283.6 L 136 284.4 Z" fill="#fff" stroke="none" stroke-width="0.0" />
<path d="M 135.6 249.4 C 140 249.2 146 248.2 152 246.8 C 164 243.6 180 240.4 192 239.6 C 208 239.2 218 236.4 228 230 C 236 224.4 242 219 248 215" fill="none" stroke="#141414" stroke-width="1.49" />
<path d="M 150 250 C 166 248 186 245.6 204 243.6" fill="none" stroke="#141414" stroke-width="1.03" />
<path d="M 161 246.4 C 166 243.6 180 241 185 242.4 C 187 245 184 248.4 180 250 C 174 251.6 165 251.6 161.6 250 Z" fill="none" stroke="#141414" stroke-width="1.15" />
<path d="M 165 247 C 170 245 179 243.6 182.4 244.4 C 183.2 246 181 248 178 248.8 C 173 249.6 168 249.6 165.6 248.8 Z" fill="none" stroke="#141414" stroke-width="0.92" />
<path d="M 153 248 C 155 246.4 159 246 160 247.6 C 159.6 249.6 156 250.4 153.6 250 Z" fill="none" stroke="#141414" stroke-width="0.92" />
<path d="M 204 239 C 205 245 205.6 250 206 254.4" fill="none" stroke="#141414" stroke-width="0.92" />
<path d="M 132.8 250 L 133.4 234.4 C 133.6 232.4 134.6 232.4 134.8 234.4 L 135.6 250" fill="#fff" stroke="#141414" stroke-width="1.26" />
<path d="M 148.2 248.4 L 148.8 235.6 C 149 233.6 150 233.6 150.2 235.6 L 151.2 248" fill="#fff" stroke="#141414" stroke-width="1.26" />
<path d="M 132.4 250 L 143.6 248 L 144.4 269 L 135.6 270.4 L 134 256 Z" fill="#fff" stroke="#141414" stroke-width="1.26" />
<path d="M 143.6 248 L 150 247.2 L 152 256 L 144.4 258" fill="none" stroke="#141414" stroke-width="1.03" />
<ellipse cx="139.4" cy="260.0" rx="1.0" ry="1.4" fill="none" stroke="#141414" stroke-width="1.03"/>
<ellipse cx="139.0" cy="266.4" rx="1.0" ry="1.4" fill="none" stroke="#141414" stroke-width="1.03"/>
<path d="M 144.4 259 C 160 257.6 176 255.6 186 254.4 C 200 254.4 214 253.6 228 249.2 C 238 245.6 244 242.4 248 239.6" fill="none" stroke="#141414" stroke-width="1.38" />
<path d="M 144.4 262.4 C 160 261 174 259.6 183 258.4" fill="none" stroke="#141414" stroke-width="0.92" />
<path d="M 144.4 267 C 160 266 174 264.4 181.6 263.2" fill="none" stroke="#141414" stroke-width="1.03" />
<path d="M 136 277.2 C 144 276 160 272.8 180 269.6" fill="none" stroke="#141414" stroke-width="1.03" />
<path d="M 136 284.4 C 144 285 150 284.4 154 283.6 C 164 282.4 174 280 180 278" fill="none" stroke="#141414" stroke-width="1.49" />
<path d="M 132 269 C 132.4 274 133.6 279 136 282.4" fill="none" stroke="#141414" stroke-width="0.92" />
<path d="M 240 219 L 255 210 L 255 193 L 264 187 L 277 190 L 276 172 L 286 162 L 302 158.4 L 319 164 L 322.4 176 L 334 178 L 354 189 L 355 192.4 L 344 197.6 L 328 202.4 L 344 220 L 368 244 L 368 278 L 240 278 Z" fill="#fff" stroke="none" stroke-width="0.0" />
<path d="M 257 210 C 254.4 204 254 198 255.2 193.2 C 259 189 263 187 266 187.6 L 277 191.6" fill="none" stroke="#141414" stroke-width="1.26" />
<path d="M 259 208 C 257.6 203 257.6 199 258.4 195.6 C 261 192.4 264 191 266.4 191.6 L 276 195" fill="none" stroke="#141414" stroke-width="1.03" />
<path d="M 261 197 C 263 195.6 265 197 264 200 C 262.4 201.6 260.4 200 261 197 Z" fill="none" stroke="#141414" stroke-width="0.92" />
<path d="M 264 187 L 265 183.6 L 270 184 L 272 190" fill="none" stroke="#141414" stroke-width="1.03" />
<path d="M 268 193 L 274 202.4 M 272 193 L 279 202" fill="none" stroke="#141414" stroke-width="0.92" />
<path d="M 285.6 164 C 280 166 276.4 170 276 175 C 276 182 278.4 189 283 193" fill="none" stroke="#141414" stroke-width="1.38" />
<path d="M 280 172 C 280 180 283 187 288 191" fill="none" stroke="#141414" stroke-width="1.03" />
<path d="M 319 169.6 C 322 173 322.4 177 321 182 C 321.6 186 323 190 325 193" fill="none" stroke="#141414" stroke-width="1.38" />
<path d="M 285.6 175 C 290 182 310 185 320 178" fill="none" stroke="#141414" stroke-width="1.26" />
<path d="M 287 180 C 294 187 312 188 321 182" fill="none" stroke="#141414" stroke-width="1.15" />
<path d="M 283 193 C 292 191 306 191 309 192 M 285 196 C 294 194.4 304 194.4 310 195.6" fill="none" stroke="#141414" stroke-width="1.03" />
<path d="M 298 199 L 301 195 L 308 200 Z" fill="none" stroke="#141414" stroke-width="1.15" />
<ellipse cx="286.4" cy="194.4" rx="2.8" ry="1.2" fill="none" stroke="#141414" stroke-width="0.92"/>
<ellipse cx="302.0" cy="169.0" rx="17.2" ry="10.0" fill="#fff" stroke="#141414" stroke-width="1.38" transform="rotate(3 302.0 169.0)"/>
<ellipse cx="302.0" cy="169.6" rx="14.8" ry="8.0" fill="#262626" stroke="#141414" stroke-width="0.92" transform="rotate(3 302.0 169.6)"/>
<path d="M 290 169 C 290 164 295 160.4 302 160 L 311 161.6 C 316 164 317 169 314 173 L 304 177 C 296 177 290.4 174 290 169 Z" fill="#fff" stroke="#141414" stroke-width="1.15" />
<path d="M 293.6 167.6 L 299 162.4 L 310 163.6 L 313 169 L 307 174 L 297 173 Z" fill="#fff" stroke="#141414" stroke-width="1.15" />
<ellipse cx="302.4" cy="167.0" rx="6.0" ry="3.6" fill="#fff" stroke="#141414" stroke-width="1.26"/>
<path d="M 297 173 L 297.2 176.4 M 307 174 L 307 177.2 M 302 174 L 302 177.4" fill="none" stroke="#141414" stroke-width="1.15" />
<path d="M 324.8 181.2 C 328.8 178.8 335 178.5 339 179.8 L 346.2 179.4 C 348.8 180 350.6 183.1 351.5 185.6 L 356.5 189.8 C 357 191.2 355.8 192.8 354 192.8 C 354.2 194.5 352.5 195.8 351 194.8 L 349.8 192.8 L 346.5 193.2 C 345 196.2 341.9 197.8 338.8 197.8 L 326.9 197.5 Z" fill="#fff" stroke="#141414" stroke-width="1.38" />
<path d="M 326.9 189.5 L 347.5 190 M 327.2 192.8 L 346.5 193 M 330 180.6 L 330.6 189.5 M 335 179.8 L 335.6 189.5 M 339 179.8 L 339.8 185 L 345.6 186.9" fill="none" stroke="#141414" stroke-width="1.03" />
<path d="M 330 190 L 330.2 197.5 M 333.8 190 L 334 197.5 M 337.5 190 L 337.8 197.5 M 341.2 190 L 341.2 197" fill="none" stroke="#141414" stroke-width="0.8" />
<path d="M 344.4 184.4 C 346.2 183.1 349.4 184.4 350.2 186.9 L 347.5 189.4 L 344.4 188.1 Z" fill="#fff" stroke="#141414" stroke-width="1.15" />
<ellipse cx="352.8" cy="193.5" rx="1.8" ry="1.8" fill="#fff" stroke="#141414" stroke-width="1.15"/>
<path d="M 322.5 178.8 C 323.8 185 324.4 191.2 326.9 197.5" fill="none" stroke="#141414" stroke-width="1.15" />
<ellipse cx="282.4" cy="208.0" rx="8.0" ry="4.6" fill="#fff" stroke="#141414" stroke-width="1.26" transform="rotate(-8 282.4 208.0)"/>
<ellipse cx="282.4" cy="208.4" rx="5.6" ry="3.0" fill="#bbb" stroke="#141414" stroke-width="1.15" transform="rotate(-8 282.4 208.4)"/>
<ellipse cx="282.4" cy="208.6" rx="2.8" ry="1.6" fill="#fff" stroke="#141414" stroke-width="0.92" transform="rotate(-8 282.4 208.6)"/>
<path d="M 240 220.4 C 246 216.6 255 210.4 264 207 C 270 205 275 203.6 280 202.4" fill="none" stroke="#141414" stroke-width="1.49" />
<path d="M 288 201.6 C 294 203.6 300 206.4 306 210" fill="none" stroke="#141414" stroke-width="1.26" />
<path d="M 228 250 C 230.1 249 235.5 246.1 240.3 243.9 C 245.1 241.7 251.8 239.6 256.7 236.9 C 261.6 234.2 265.7 230.5 270 227.5 C 274.3 224.5 278.6 221.4 282.5 218.9 C 286.4 216.4 290 214.3 293.4 212.7 C 296.8 211.1 301.2 210 302.8 209.5" fill="none" stroke="#141414" stroke-width="1.49" />
<path d="M 241.4 245.8 C 244.1 244.6 252.9 241.5 257.8 238.8 C 262.8 236.1 266.8 232.4 271.1 229.4 C 275.4 226.4 279.7 223.3 283.6 220.8 C 287.5 218.3 291.1 216.2 294.5 214.6 C 297.9 213 302.3 211.9 303.9 211.4" fill="none" stroke="#141414" stroke-width="0.92" />
<path d="M 242.5 247.7 C 245.2 246.5 253.9 243.4 258.9 240.7 C 263.8 238 267.9 234.3 272.2 231.3 C 276.5 228.3 280.8 225.2 284.7 222.7 C 288.6 220.2 292.2 218.1 295.6 216.5 C 299 214.9 303.4 213.8 305 213.3" fill="none" stroke="#141414" stroke-width="0.92" />
<path d="M 243.6 249.6 C 246.3 248.4 255.1 245.3 260 242.6 C 264.9 239.9 269 236.2 273.3 233.2 C 277.6 230.2 281.9 227.1 285.8 224.6 C 289.7 222.1 293.3 220 296.7 218.4 C 300.1 216.8 304.5 215.7 306.1 215.2" fill="none" stroke="#141414" stroke-width="0.92" />
<path d="M 244.7 251.5 C 247.4 250.3 256.1 247.2 261.1 244.5 C 266 241.8 270.1 238.1 274.4 235.1 C 278.7 232.1 283 229 286.9 226.5 C 290.8 224 294.4 221.9 297.8 220.3 C 301.2 218.7 305.6 217.6 307.2 217.1" fill="none" stroke="#141414" stroke-width="0.92" />
<path d="M 235.6 258.7 C 238.2 257.7 246.2 255 251.2 252.5 C 256.1 250 260.6 246.8 265.3 243.9 C 270 241 275 238 279.4 235.3 C 283.8 232.6 287.7 229.8 291.9 227.5 C 296.1 225.2 300.8 222.6 304.4 221.2 C 308 219.8 312.1 219.3 313.7 218.9" fill="none" stroke="#141414" stroke-width="1.49" />
<path d="M 241.9 263.4 C 244.2 262.4 251.1 259.8 256 257.2 C 260.9 254.6 266.7 250.9 271.6 247.8 C 276.5 244.7 281.2 240.8 285.6 238.4 C 290 236.1 293.3 235.3 298 233.7 C 302.7 232.1 310 230.3 313.7 229 C 317.4 227.7 318.9 226.5 320 226" fill="none" stroke="#141414" stroke-width="1.15" />
<path d="M 237.2 223.6 L 256.7 236.9 L 265.3 249.4" fill="none" stroke="#141414" stroke-width="0.92" />
<path d="M 302.8 209.5 C 306 211 308 214 309 218" fill="none" stroke="#141414" stroke-width="1.15" />
<path d="M 306 210 C 309 214 310 219 309.6 223 M 306 210 C 312 208 320 208 328 208.4" fill="none" stroke="#141414" stroke-width="1.26" />
<path d="M 300 224.4 L 303.6 222.4 L 304.4 226 Z" fill="none" stroke="#141414" stroke-width="1.03" />
<path d="M 309.6 223 C 314 224 319 225 322 227" fill="none" stroke="#141414" stroke-width="1.03" />
<path d="M 305.5 210 C 307.2 209.6 312.6 208.2 316 207.5 C 319.4 206.8 323.8 206.4 326 206 C 328.2 205.6 328.5 205.2 329 205" fill="none" stroke="#141414" stroke-width="1.03" />
<path d="M 309 192 C 315 194.4 319 197 322 199" fill="none" stroke="#141414" stroke-width="1.15" />
<path d="M 310 195.6 C 316 198 321 201 324 203.6" fill="none" stroke="#141414" stroke-width="1.03" />
<path d="M 349 227 L 360 222 L 360.4 234 L 354.4 238" fill="#fff" stroke="#141414" stroke-width="1.26" />
<ellipse cx="355.6" cy="229.0" rx="1.4" ry="1.8" fill="none" stroke="#141414" stroke-width="1.03"/>
<path d="M 354.4 238 L 368 246" fill="none" stroke="#141414" stroke-width="1.15" />
<path d="M 317 226 C 324 234 328 244 330 254" fill="none" stroke="#141414" stroke-width="1.15" />
<path d="M 344 227 C 342 234 341 244 344 254 C 348 262 349 270 348 278" fill="none" stroke="#141414" stroke-width="1.26" />
<path d="M 340 230 C 338.4 238 338.4 246 341 254 C 344 262 345 270 344 278" fill="none" stroke="#141414" stroke-width="1.03" />
<ellipse cx="332.4" cy="262.4" rx="9.2" ry="12.4" fill="#fff" stroke="#141414" stroke-width="1.38" transform="rotate(-15 332.4 262.4)"/>
<ellipse cx="334.0" cy="263.0" rx="6.8" ry="10.0" fill="#fff" stroke="#141414" stroke-width="1.15" transform="rotate(-15 334.0 263.0)"/>
<path d="M 327 268 C 330 274 336 275.6 340 270" fill="none" stroke="#333" stroke-width="1.84" />
<ellipse cx="330.4" cy="238.0" rx="2.2" ry="2.8" fill="none" stroke="#141414" stroke-width="1.15" transform="rotate(-20 330.4 238.0)"/>
<ellipse cx="360.0" cy="258.0" rx="4.0" ry="2.8" fill="none" stroke="#141414" stroke-width="1.15" transform="rotate(20 360.0 258.0)"/>
<path d="M 352 270 C 356 267 362 268 365 272 C 367 275 367.6 277 368 278" fill="none" stroke="#141414" stroke-width="1.15" />
<path d="M 368 243.6 L 417 282.4 L 442 290 L 452 282.4 L 453 290 L 472 299 L 496 309 L 496 358 L 368 358 Z" fill="#fff" stroke="none" stroke-width="0.0" />
<path d="M 322 199 C 323.2 200 326.7 202.8 329 205 C 331.3 207.2 334.2 209.7 336 212 C 337.8 214.3 338.3 216.5 340 219 C 341.7 221.5 344 224.3 346 227 C 348 229.7 349.7 232.5 352 235 C 354.3 237.5 356.6 239.6 360 242 C 363.4 244.4 367.3 246.2 372.5 249.5 C 377.7 252.8 384.9 257.8 391.2 262 C 397.4 266.2 404.4 270.8 410 274.5 C 415.6 278.2 420.8 281.8 425 284.5 C 429.2 287.2 432.1 289.2 435 290.7 C 437.9 292.2 441.2 293.1 442.4 293.6" fill="none" stroke="#141414" stroke-width="1.61" />
<path d="M 306 209.5 C 307.7 210.4 312.7 212.6 316 215 C 319.3 217.4 322.7 221.1 326 224 C 329.3 226.9 333.1 229.9 336 232.5 C 338.9 235.1 340.8 237.3 343.5 239.5 C 346.2 241.7 349.2 243.6 352 245.5 C 354.8 247.4 356.6 248.4 360 250.7 C 363.4 253 368.3 256.6 372.5 259.5 C 376.7 262.4 380.2 265.1 385 268.2 C 389.8 271.3 396.2 275.1 401.2 278.2 C 406.2 281.3 412.1 285.2 415 287 C 417.9 288.8 416.2 288.4 418.7 289 C 421.2 289.6 425.8 289.3 430 290.7 C 434.2 292.1 441.7 296.5 444 297.6" fill="none" stroke="#141414" stroke-width="1.38" />
<path d="M 386 264 L 388 263.2 M 416 279.6 L 418 279" fill="none" stroke="#141414" stroke-width="1.03" />
<ellipse cx="380.4" cy="282.4" rx="8.8" ry="12.4" fill="#fff" stroke="#141414" stroke-width="1.38" transform="rotate(-18 380.4 282.4)"/>
<ellipse cx="382.4" cy="282.4" rx="6.8" ry="10.4" fill="#fff" stroke="#141414" stroke-width="1.15" transform="rotate(-18 382.4 282.4)"/>
<path d="M 374 288 C 376 294 382 296 387 292" fill="none" stroke="#333" stroke-width="1.84" />
<ellipse cx="407.0" cy="289.2" rx="4.4" ry="5.2" fill="none" stroke="#141414" stroke-width="1.26" transform="rotate(-15 407.0 289.2)"/>
<ellipse cx="398.0" cy="289.0" rx="0.8" ry="1.0" fill="none" stroke="#141414" stroke-width="1.03"/>
<path d="M 368 299 C 376 306 386 315 394 322.4" fill="none" stroke="#141414" stroke-width="1.26" />
<path d="M 368 303 C 376 310 385 318 392 325" fill="none" stroke="#141414" stroke-width="0.92" />
<path d="M 442.4 293.6 L 442 287 L 452 282.4 L 453.2 290 L 447 294.4" fill="#fff" stroke="#141414" stroke-width="1.26" />
<ellipse cx="448.6" cy="288.4" rx="1.2" ry="1.6" fill="none" stroke="#141414" stroke-width="1.03"/>
<path d="M 368 353 C 376 339 388 328 402 318 C 416 310 432 303 452 300.4" fill="none" stroke="#141414" stroke-width="1.49" />
<path d="M 373.6 358 C 380 345 392 333 406 323 C 420 315 436 309 456 305.6" fill="none" stroke="#141414" stroke-width="1.26" />
<path d="M 388 328 L 392 333.6" fill="none" stroke="#141414" stroke-width="1.03" />
<path d="M 422 358 C 425 348 432 339 442 332 C 448 328 454 324.4 460.4 322.4" fill="none" stroke="#141414" stroke-width="1.26" />
<path d="M 428 358 C 431 350 437 342 446 335.6 C 452 331.6 457 329 462 327.6" fill="none" stroke="#141414" stroke-width="1.03" />
<path d="M 452 300.4 C 456 299.6 462 299 472 299.6" fill="none" stroke="#141414" stroke-width="1.15" />
<ellipse cx="438.0" cy="311.0" rx="7.6" ry="4.0" fill="#fff" stroke="#141414" stroke-width="1.26"/>
<ellipse cx="438.0" cy="311.4" rx="5.2" ry="2.6" fill="#bbb" stroke="#141414" stroke-width="1.15"/>
<ellipse cx="438.0" cy="311.6" rx="2.6" ry="1.2" fill="#fff" stroke="#141414" stroke-width="0.92"/>
<path d="M 442.4 293.6 C 454 295 464 297 472 299.6 C 482 302.4 490 306 496 309" fill="none" stroke="#141414" stroke-width="1.38" />
<path d="M 447 294.4 C 458 294.4 472 298 482 301" fill="none" stroke="#141414" stroke-width="1.03" />
<path d="M 444 297.6 C 452 299 456 299.6 460 300" fill="none" stroke="#141414" stroke-width="1.03" />
<path d="M 480 303 L 510 314 L 533 320 L 541 304 L 549 312 L 560 310 L 564 312 L 560 321 C 576 325 586 336 584.4 348 C 580 364 560 370 544 364 L 530 354 L 500 344 L 494 360 L 490 384 L 480 380 Z" fill="#fff" stroke="none" stroke-width="0.0" />
<path d="M 480 303 C 490 306 500 310 510 314 C 520 317.6 528 319.6 537 324.4" fill="none" stroke="#141414" stroke-width="1.49" />
<path d="M 535 332.4 C 538 325 550 321.6 562 323 C 576 325 585.6 334 584.4 343 C 583 350 574 354.4 562 354 C 548 353.6 534 344 535 332.4 Z" fill="#fff" stroke="#141414" stroke-width="1.49" />
<ellipse cx="557.0" cy="338.0" rx="19.4" ry="9.2" fill="#fff" stroke="#141414" stroke-width="1.38" transform="rotate(8 557.0 338.0)"/>
<path d="M 540 337 C 546 332.4 560 331.6 570 336 C 573 337.6 574 339 574.4 340.4" fill="none" stroke="#222" stroke-width="2.3" />
<path d="M 541 340 C 548 337 560 337 569 340 M 546 342.4 C 554 340.4 564 341 570 343.6" fill="none" stroke="#141414" stroke-width="1.03" />
<path d="M 539.2 341 C 546 346 564 349 575.6 342" fill="none" stroke="#141414" stroke-width="1.03" />
<path d="M 535 335 C 533.6 344 538 355 548 360 C 560 365 576 361 582 353 C 584 350 584.6 347 584.4 343" fill="none" stroke="#141414" stroke-width="1.38" />
<path d="M 530 354 C 536 362 548 366.4 560 367.2 C 570 367.2 578 364 582 357" fill="none" stroke="#141414" stroke-width="1.38" />
<path d="M 540 353 C 548 359 564 361 576 357" fill="none" stroke="#141414" stroke-width="0.92" />
<path d="M 526 319 C 525.6 326 525 334 524.4 340 C 525.6 347 528 352 530.4 354.4" fill="none" stroke="#141414" stroke-width="1.03" />
<path d="M 540 346 L 541 358.4" fill="none" stroke="#141414" stroke-width="0.92" />
<ellipse cx="537.6" cy="351.6" rx="1.2" ry="1.8" fill="none" stroke="#141414" stroke-width="1.03"/>
<path d="M 479 321.8 C 481.2 323.8 487.3 331.1 492.4 333.7 C 497.5 336.3 504.4 336.4 509.7 337.7 C 515 338.9 519.9 339.2 524.3 341.2 C 528.7 343.2 534.2 348.3 536.2 349.7" fill="none" stroke="#141414" stroke-width="1.38" />
<path d="M 489.8 341.7 C 491.8 341.6 496.2 340.3 501.7 341.2 C 507.2 342.1 517.2 344.3 523 347 C 528.8 349.7 532.7 355.2 536.2 357.6 C 539.7 360 542.9 360.9 544.2 361.6" fill="none" stroke="#141414" stroke-width="1.26" />
<path d="M 496.4 349.7 C 498.6 349.2 505.3 346.6 509.7 347 C 514.1 347.4 519.5 350.1 523 352.3 C 526.5 354.5 529.7 359 531 360.3" fill="none" stroke="#141414" stroke-width="1.15" />
<path d="M 502.4 332.4 L 502.4 346" fill="none" stroke="#141414" stroke-width="0.92" />
<path d="M 499 342.4 L 501.2 338 L 503.2 342 Z" fill="none" stroke="#141414" stroke-width="1.15" />
<ellipse cx="494.0" cy="317.2" rx="1.2" ry="0.8" fill="none" stroke="#141414" stroke-width="1.38"/>
<path d="M 533 320 L 533.6 315.6 L 541 304 L 546 306 L 549 312 L 548 318" fill="#fff" stroke="#141414" stroke-width="1.26" />
<path d="M 541 304 L 542.4 310 L 536 319.6 M 542.4 310 L 549 312" fill="none" stroke="#141414" stroke-width="1.03" />
<path d="M 549 312 L 557 313.6 L 560.4 309.6 L 564 312 L 559.6 320 L 564 322" fill="none" stroke="#141414" stroke-width="1.26" />
<path d="M 557 313.6 L 556 320 M 546 315 L 555 317" fill="none" stroke="#141414" stroke-width="1.03" />
<ellipse cx="357.9" cy="279.0" rx="8.3" ry="12.6" fill="#fff" stroke="#141414" stroke-width="1.38" transform="rotate(-15 357.9 279.0)"/>
<ellipse cx="360.2" cy="279.0" rx="5.9" ry="10.6" fill="#fff" stroke="#141414" stroke-width="1.15" transform="rotate(-15 360.2 279.0)"/>
<path d="M 351.2 283.4 C 353.1 289.5 358.3 292 363.2 288.7" fill="none" stroke="#333" stroke-width="1.84" />
<path d="M 355.9 270.8 C 355.1 276.9 356.1 283.8 358.8 288.3" fill="none" stroke="#222" stroke-width="2.07" />
<path d="M 380.1 271.3 C 379.1 277.3 380.7 285.5 384.1 290.5" fill="none" stroke="#222" stroke-width="2.07" />
<path d="M 330.3 254.6 C 329.5 260.1 330.7 267.2 334 271.3" fill="none" stroke="#222" stroke-width="2.07" />
<path d="M 318.1 272.3 C 326.3 276.3 334.4 281 342.5 285.5 C 352.7 291.6 362.8 298.7 370.9 303.8 C 379.1 308.8 386.2 313.9 391.3 317" fill="none" stroke="#141414" stroke-width="1.49" />
<path d="M 316.1 276.3 C 324.2 280.4 332.3 285.1 340.5 289.9 C 350.6 296 360.8 302.7 368.9 308.2 C 375 311.9 381.1 316.3 385.6 320" fill="none" stroke="#141414" stroke-width="1.03" />
<ellipse cx="360.2" cy="258.0" rx="2.4" ry="3.3" fill="#fff" stroke="#141414" stroke-width="1.15" transform="rotate(-15 360.2 258.0)"/>
<path d="M 358.3 259.1 L 362.4 260.1" fill="none" stroke="#333" stroke-width="2.07" />
<path d="M 393.1 316.7 C 390.9 311.2 391.7 303.4 395.6 299.1 C 399.5 296 405 297.6 408.5 303.4 C 410.5 306.6 411.6 309.7 412 311.2" fill="none" stroke="#141414" stroke-width="1.38" />
<ellipse cx="405.9" cy="307.3" rx="4.5" ry="8.8" fill="#fff" stroke="#141414" stroke-width="1.38" transform="rotate(-22 405.9 307.3)"/>
<path d="M 400.5 299.9 C 399.1 303.4 399.9 309.7 403.4 314.4" fill="none" stroke="#141414" stroke-width="1.15" />
<path d="M 395.6 299.5 C 393.3 303.4 392.9 309.7 395.2 316.7 M 397.6 300.5 C 395.6 304.2 395.5 310.5 397.8 317.5" fill="none" stroke="#141414" stroke-width="1.03" />
<path d="M 392.9 305.8 L 395.6 305.4 M 393.1 309.7 L 396 309.1 M 394.1 313.6 L 396.8 312.8 M 395.5 317.3 L 397.8 316.3 M 398.4 318.7 L 400.5 317.3" fill="none" stroke="#141414" stroke-width="1.15" />
<path d="M 412.8 307 C 413.2 302.7 416.7 299.5 420.6 300.5 C 422.2 301.5 422.6 303.4 421.8 305.4" fill="none" stroke="#141414" stroke-width="1.15" />
<path d="M 414.8 307.3 C 415.2 304.2 417.5 302.3 419.8 302.8 M 421.4 291.7 L 420.8 301.1 M 424.5 292.5 L 422.8 303.4" fill="none" stroke="#141414" stroke-width="1.15" />
<path d="M 354 418 L 355 390 L 358 370 L 368 352 L 384 334 L 402 318 L 420 306 L 436 300 L 462 310 L 462 322 L 444 330 L 430 340 L 416 354 L 404 370 L 401 384 L 399 418 Z" fill="#fff" stroke="none" stroke-width="0.0" />
<path d="M 354 418 C 354.1 415.3 354.2 406.7 354.4 402 C 354.6 397.3 354.4 395.3 355 390 C 355.6 384.7 355.8 376.3 358 370 C 360.2 363.7 363.7 358 368 352 C 372.3 346 378.3 339.7 384 334 C 389.7 328.3 396 322.7 402 318 C 408 313.3 414.3 309 420 306 C 425.7 303 431 300.8 436 300 C 441 299.2 447.7 300.8 450 301" fill="none" stroke="#141414" stroke-width="1.72" />
<path d="M 359 418 C 359.1 415.3 359.2 406.7 359.4 402 C 359.6 397.3 359.4 395 360 390 C 360.6 385 361 377.8 363 372 C 365 366.2 368 360.7 372 355 C 376 349.3 381.7 343.5 387 338 C 392.3 332.5 398.2 326.7 404 322 C 409.8 317.3 416.3 313 422 310 C 427.7 307 433.3 304.9 438 304 C 442.7 303.1 448 304.3 450 304.4" fill="none" stroke="#141414" stroke-width="1.26" />
<path d="M 356.4 418 C 356.6 413.3 356.7 397.8 357.4 390 C 358.1 382.2 358.3 377.1 360.4 371 C 362.5 364.9 365.8 359.4 370 353.6 C 374.2 347.8 380.1 341.6 385.6 336 C 391.1 330.4 397.1 324.7 403 320 C 408.9 315.3 415.3 311 421 308 C 426.7 305 434.3 303 437 302" fill="none" stroke="#141414" stroke-width="0.69" />
<path d="M 401 384 C 401.5 381.7 401.5 375 404 370 C 406.5 365 411.7 359 416 354 C 420.3 349 425.3 344 430 340 C 434.7 336 439.3 332.7 444 330 C 448.7 327.3 454.8 325.4 458 324 C 461.2 322.6 462.2 322 463 321.6" fill="none" stroke="#141414" stroke-width="1.49" />
<path d="M 397 380 C 397.5 378 397.5 372.7 400 368 C 402.5 363.3 407.3 357.2 412 352 C 416.7 346.8 423 341.2 428 337 C 433 332.8 436.8 329.8 442 327 C 447.2 324.2 456.2 321.2 459 320" fill="none" stroke="#141414" stroke-width="1.03" />
<path d="M 406 382 C 406.5 380.3 406.7 376 409 372 C 411.3 368 415.8 362.5 420 358 C 424.2 353.5 429.3 348.8 434 345 C 438.7 341.2 443.6 337.6 448 335 C 452.4 332.4 458.3 330.2 460.4 329.2" fill="none" stroke="#141414" stroke-width="1.03" />
<path d="M 403.6 383 C 404.1 381 404 375.5 406.4 371 C 408.8 366.5 413.7 360.8 418 356 C 422.3 351.2 427.3 346.3 432 342.4 C 436.7 338.5 441.4 335.1 446 332.4 C 450.6 329.7 457.3 327.4 459.6 326.4" fill="none" stroke="#141414" stroke-width="0.69" />
<path d="M 363.6 364.4 C 365 364.5 369.3 364.4 372 364.8 C 374.7 365.2 377 365.9 380 367 C 383 368.1 387.2 370 390 371.6 C 392.8 373.2 395.2 374.3 397 376.4 C 398.8 378.5 400.3 382.7 401 384" fill="none" stroke="#141414" stroke-width="1.26" />
<path d="M 384 334 L 387 338 M 418 349 L 423.6 354.4 M 421 347 L 426 352 M 454 322 L 456 330" fill="none" stroke="#141414" stroke-width="0.92" />
<path d="M 401 384 C 400.4 394 399.6 404 399.2 418" fill="none" stroke="#141414" stroke-width="1.38" />
<path d="M 397 380 C 396.4 390 396 402 395.6 418" fill="none" stroke="#141414" stroke-width="0.92" />
<path d="M 368.4 390 C 370 383 376 380 382 381 C 389 382 393.6 388 392.4 396 C 391 403 385 407 378 406 C 371 404.4 367 398 368.4 390 Z" fill="#fff" stroke="#141414" stroke-width="1.26" />
<path d="M 371.6 391 C 372.4 386 377 383.6 381.6 384.4 C 387 385.6 389.6 390 389 395.6 C 388 401 384 403.6 379 403 C 374 402 370.8 397 371.6 391 Z" fill="none" stroke="#141414" stroke-width="0.92" />
<ellipse cx="380.4" cy="388.0" rx="4.0" ry="3.6" fill="none" stroke="#141414" stroke-width="1.15"/>
<path d="M 377 389.6 C 375.6 394 375.2 399 376 402.4 M 383.6 390 C 384.4 394 383.6 399.6 382 403.2" fill="none" stroke="#141414" stroke-width="1.15" />
<path d="M 378 386 L 380 383.6 L 382.4 386" fill="none" stroke="#141414" stroke-width="0.92" />
<ellipse cx="437.4" cy="310.0" rx="7.2" ry="3.6" fill="#fff" stroke="#141414" stroke-width="1.26" transform="rotate(5 437.4 310.0)"/>
<ellipse cx="437.4" cy="310.4" rx="4.8" ry="2.2" fill="#bbb" stroke="#141414" stroke-width="1.15" transform="rotate(5 437.4 310.4)"/>
<ellipse cx="437.4" cy="310.6" rx="2.4" ry="1.0" fill="#fff" stroke="#141414" stroke-width="0.92" transform="rotate(5 437.4 310.6)"/>
<path d="M 403 386.4 L 416 378 L 419 390 L 420.4 396 L 416.4 398.4 L 412.4 392.4 L 409.2 399.2 L 404.4 394.4 Z" fill="#fff" stroke="#141414" stroke-width="1.26" />
<ellipse cx="406.4" cy="389.2" rx="0.8" ry="1.0" fill="none" stroke="#141414" stroke-width="1.03"/>
<ellipse cx="417.2" cy="393.2" rx="0.8" ry="1.0" fill="none" stroke="#141414" stroke-width="1.03"/>
<ellipse cx="410.0" cy="397.6" rx="0.8" ry="1.0" fill="none" stroke="#141414" stroke-width="1.03"/>
<path d="M 350 400 L 346 422.4 L 351 428 L 353 460 L 356 484 C 355 500 366 520 388 520.4 C 408 520 420 504 419 488 L 408 460 L 408 442 L 388 405 L 378 404 L 358 414 Z" fill="#fff" stroke="none" stroke-width="0.0" />
<path d="M 324.2 383.6 L 323.4 406 L 345.3 422 L 350 415.6 L 351.8 397 L 331 387 Z" fill="#fff" stroke="#141414" stroke-width="1.38" />
<path d="M 326.5 388 L 326 404.5 L 344.5 418 M 330.5 389 L 347.5 400.5" fill="none" stroke="#141414" stroke-width="0.92" />
<ellipse cx="339.0" cy="407.0" rx="1.9" ry="2.7" fill="none" stroke="#141414" stroke-width="1.15" transform="rotate(-20 339.0 407.0)"/>
<path d="M 350 400 C 352 408 354 416 355 424 M 353 400 C 355 408 357 416 358 422" fill="none" stroke="#141414" stroke-width="1.15" />
<path d="M 346 422.4 L 351 428" fill="none" stroke="#141414" stroke-width="1.15" />
<path d="M 358 414.4 L 378 404 L 388 405.2 L 406 426 L 406.4 440 L 389 420 L 378 413.6 L 360 422.4 Z" fill="#fff" stroke="#141414" stroke-width="1.38" />
<path d="M 360 422.4 L 376.4 413.2 L 386 416 L 408 442.4 L 407.6 452.4 L 404 450 L 390 430 L 380 422 L 361 432" fill="#fff" stroke="#141414" stroke-width="1.38" />
<ellipse cx="379.6" cy="408.4" rx="1.4" ry="1.2" fill="none" stroke="#141414" stroke-width="1.03"/>
<ellipse cx="378.4" cy="419.6" rx="1.6" ry="1.4" fill="none" stroke="#141414" stroke-width="1.03"/>
<path d="M 358 414.4 L 357 412 L 360 411 M 360 422.4 L 358 420" fill="none" stroke="#141414" stroke-width="1.03" />
<ellipse cx="356.0" cy="429.0" rx="1.0" ry="1.2" fill="none" stroke="#141414" stroke-width="1.03"/>
<path d="M 388 405.2 L 389 420" fill="none" stroke="#141414" stroke-width="0.92" />
<path d="M 389 426 C 394 430 399 436 402 443" fill="none" stroke="#141414" stroke-width="0.92" />
<path d="M 351 428 C 352 440 352.4 452 353 460 C 353.6 470 354.4 478 356 484" fill="none" stroke="#141414" stroke-width="1.49" />
<path d="M 357 433 C 357.2 444 357.2 454 357.6 462 C 358.4 466 360 468 363 469" fill="none" stroke="#141414" stroke-width="1.15" />
<path d="M 354 430 C 355 442 355.2 454 355.6 464" fill="none" stroke="#141414" stroke-width="0.8" />
<path d="M 407.6 452.4 C 406 456 405 459 405.6 462 C 409 469 416 478 419 488" fill="none" stroke="#141414" stroke-width="1.49" />
<path d="M 396 440 C 400 448 402 456 402.4 462 C 404 468 408 473 411 477" fill="none" stroke="#141414" stroke-width="1.03" />
<path d="M 361 432 C 370 430 380 431 389 435" fill="none" stroke="#141414" stroke-width="1.15" />
<ellipse cx="382.0" cy="448.6" rx="13.6" ry="11.0" fill="#fff" stroke="#141414" stroke-width="1.26" transform="rotate(20 382.0 448.6)"/>
<ellipse cx="381.0" cy="447.0" rx="11.0" ry="8.0" fill="#fff" stroke="#141414" stroke-width="1.15" transform="rotate(15 381.0 447.0)"/>
<ellipse cx="381.6" cy="450.0" rx="10.0" ry="6.4" fill="#fff" stroke="#141414" stroke-width="1.38" transform="rotate(10 381.6 450.0)"/>
<ellipse cx="382.0" cy="450.0" rx="6.0" ry="3.6" fill="#fff" stroke="#141414" stroke-width="1.15" transform="rotate(10 382.0 450.0)"/>
<path d="M 387 441 L 390 445 M 391 447 L 392.4 451" fill="none" stroke="#333" stroke-width="1.84" />
<path d="M 356 484 C 357 474 370 467.6 386 467.6 C 404 468 419.6 477 419 489 C 418 500 404 506.4 388 506 C 370 505.6 355.6 496 356 484 Z" fill="#fff" stroke="#141414" stroke-width="1.49" />
<path d="M 363 469 C 370 465 380 464.4 386 465" fill="none" stroke="#141414" stroke-width="1.03" />
<ellipse cx="388.0" cy="488.0" rx="23.2" ry="11.6" fill="#fff" stroke="#141414" stroke-width="1.38" transform="rotate(5 388.0 488.0)"/>
<path d="M 366.4 484 C 372 478 386 475.6 398 478.4 C 404 480 408 483 410 486.4" fill="none" stroke="#222" stroke-width="2.53" />
<path d="M 367.6 488 C 374 483 388 481 400 484 C 404 485.6 406.4 487.2 407.6 489.2" fill="none" stroke="#141414" stroke-width="1.03" />
<path d="M 400 484 L 401 491 M 370 493 C 380 498 398 498.4 408 492.4" fill="none" stroke="#141414" stroke-width="1.03" />
<path d="M 365.6 490 C 372 498 400 501 410.4 491" fill="none" stroke="#141414" stroke-width="1.03" />
<path d="M 356 486 C 355.6 496 359 506 368 513 C 378 520 398 521 408 515 C 416 510 419 500 419 489" fill="none" stroke="#141414" stroke-width="1.49" />
<path d="M 356.6 496 C 360 508 376 516 390 516 C 404 515.6 415 508 418.4 498" fill="none" stroke="#141414" stroke-width="1.03" />
<path d="M 360 508 C 368 517 380 521 390 521.2" fill="none" stroke="#141414" stroke-width="0.92" />
<ellipse cx="364.4" cy="503.4" rx="1.4" ry="1.8" fill="none" stroke="#141414" stroke-width="1.15"/>
<path d="M 288.8 240 L 296.9 237.5 L 305 236.2 C 308.8 237.5 311.2 239.4 313.1 241.9 C 315.6 245 317.5 247.5 318.5 250 C 320 255 321 260 320.6 266.2 L 316.9 276.2 L 311.2 272.5 L 295 252.5 L 290 260 Z" fill="#fff" stroke="#141414" stroke-width="1.26" />
<path d="M 298.8 240 C 302.5 239.4 306.2 240.6 308.8 243.1 C 312.5 246.9 315.6 250.6 316.9 255 C 318.1 260 318.1 265 317.2 268.8" fill="none" stroke="#141414" stroke-width="0.92" />
<path d="M 296.9 237.5 C 297.8 242.5 299.4 248.8 301.9 255 M 300 237.8 C 301 242.5 302.8 248.8 305 256.9" fill="none" stroke="#141414" stroke-width="1.03" />
<path d="M 288.8 240 L 290 260 M 293.8 239.4 C 293.1 246.2 292.2 253.8 291.2 259.4" fill="none" stroke="#141414" stroke-width="1.15" />
<path d="M 292.5 240.6 L 294 240 L 293.5 241.9 Z" fill="none" stroke="#141414" stroke-width="0.92" />
<ellipse cx="308.1" cy="253.8" rx="1.0" ry="2.8" fill="#333" stroke="#141414" stroke-width="1.15" transform="rotate(-10 308.1 253.8)"/>
<ellipse cx="315.0" cy="260.0" rx="1.2" ry="3.0" fill="#fff" stroke="#141414" stroke-width="1.15" transform="rotate(-10 315.0 260.0)"/>
<path d="M 308.8 252.5 L 314.4 258.1 M 307.8 255.6 L 313.8 261.9" fill="none" stroke="#141414" stroke-width="1.15" />
<ellipse cx="307.5" cy="251.0" rx="0.9" ry="1.1" fill="none" stroke="#141414" stroke-width="0.92"/>
<path d="M 283.8 258.8 L 290 260 L 295 252.5 L 311.2 272.5 L 316.9 276.2 L 313.8 283.1 L 307.5 291.5 L 303.5 291.2 L 284 277.8 C 282.8 272.5 282.5 266.2 282.5 262.8 Z" fill="#fff" stroke="#141414" stroke-width="1.38" />
<path d="M 311.2 272.5 C 309.4 277.5 307.5 283.8 305.6 290.2 M 313.1 274 L 307.5 291.5" fill="none" stroke="#141414" stroke-width="1.03" />
<path d="M 286 260.6 C 285.6 267.5 286 273.8 286.9 278.1" fill="none" stroke="#141414" stroke-width="0.92" />
<path d="M 284 277.8 L 286.9 278.1 L 305 290" fill="none" stroke="#141414" stroke-width="0.92" />
<ellipse cx="296.5" cy="278.2" rx="1.8" ry="2.5" fill="none" stroke="#141414" stroke-width="1.15" transform="rotate(-10 296.5 278.2)"/>
<path d="M 316.9 276.2 L 326.9 278.5 L 325.2 287.8 L 322.5 288.8 L 319.8 286.5 L 313.8 283.1" fill="#fff" stroke="#141414" stroke-width="1.26" />
<path d="M 316.5 280 L 325 281.9 M 319.4 283.8 L 319.8 286.5 M 322.5 285 L 322.5 288.8" fill="none" stroke="#141414" stroke-width="1.03" />
<path d="M 320 277.5 C 322.5 276.5 326.2 276.9 328.8 278.1 L 350 292.5" fill="none" stroke="#141414" stroke-width="1.15" />
<path d="M 326.9 278.5 L 350 295" fill="none" stroke="#141414" stroke-width="0.92" />
<path d="M 340 241.9 C 343.1 246.2 345 251.2 345 255 C 344.8 261.2 343.1 266.2 342.5 271.2 C 343.1 276.2 345 281.2 350 286.2" fill="none" stroke="#141414" stroke-width="1.26" />
<path d="M 343.1 241.2 C 346.2 246.2 347.8 251.2 347.8 255.6 C 347.5 261.2 346 266.2 345.2 271.2 C 346 275.6 347.5 279.4 350 282.5" fill="none" stroke="#141414" stroke-width="1.03" />
<path d="M 337.5 230 C 340 235 341.9 238.8 343.1 241.2 M 334.4 230 L 340 241.9" fill="none" stroke="#141414" stroke-width="1.15" />
<ellipse cx="330.0" cy="238.8" rx="1.6" ry="2.2" fill="none" stroke="#141414" stroke-width="1.15" transform="rotate(-25 330.0 238.8)"/>
<path d="M 340 282.5 L 345 285 L 343.8 287.5" fill="none" stroke="#141414" stroke-width="0.92" />
<ellipse cx="289.8" cy="293.8" rx="2.8" ry="1.5" fill="none" stroke="#141414" stroke-width="1.15" transform="rotate(15 289.8 293.8)"/>
<path d="M 183.8 259.3 L 201.1 257.9 L 231.6 255.4 L 260 264.4 L 260 307 L 245.8 307 L 243.8 298.9 L 225.5 293.8 L 211.3 307 L 207.2 312.1 L 197 313.1 L 188.9 309.1 L 180.8 300.9 L 176.7 294.8 L 166.6 286.7 L 154.4 282.7 L 173.7 283.7 L 181.8 270.5 Z" fill="#fff" stroke="none" stroke-width="0.0" />
<path d="M 183.8 259.3 C 183.2 264.4 182.4 268.4 181.8 270.9 C 180.4 275.5 178.8 279.6 177.1 281.6 L 173.7 283.9" fill="none" stroke="#141414" stroke-width="1.49" />
<path d="M 183.8 259.3 C 185.7 259 190.6 258.1 195 257.6 C 199.4 257.1 205.2 256.8 210 256.5 C 214.8 256.2 220.5 256.1 224 255.8 C 227.5 255.6 229.8 255.1 231 255" fill="none" stroke="#141414" stroke-width="1.38" />
<path d="M 183.8 259.3 C 184.8 260.1 187.7 262.6 190 264.2 C 192.3 265.8 194 267.4 197.5 268.8 C 201 270.2 207.1 271.4 211 272.3 C 214.9 273.2 217.5 273.4 221 274.4 C 224.5 275.4 228.9 277.1 232 278.3 C 235.1 279.5 237.1 280.7 239.4 281.3 C 241.7 281.9 244.9 281.9 246 282" fill="none" stroke="#141414" stroke-width="1.61" />
<path d="M 181.9 268.7 C 182.6 269.2 184.4 270.6 186.2 271.9 C 188 273.1 190.2 274.9 192.5 276.2 C 194.8 277.4 197.5 278.6 200 279.4 C 202.5 280.2 204.2 280.4 207.5 281.2 C 210.8 282 215.9 283.3 220 284.4 C 224.1 285.5 227.7 286.6 232 288 C 236.3 289.4 243.7 291.8 246 292.5" fill="none" stroke="#141414" stroke-width="1.95" />
<path d="M 154.4 282.7 C 160.5 284.3 164.5 285.7 167.6 287.1 C 171.6 289.8 175.1 293.2 177.7 296.5 C 180.8 300.9 184.4 305.4 189.3 309.1 C 193 311.5 197 313.1 201.1 313.1 C 205.2 313.1 207.6 311.5 209.6 309.1" fill="none" stroke="#141414" stroke-width="1.49" />
<path d="M 173.7 283.9 C 178.8 285.1 186.9 287.7 193.4 290 C 199.1 292 205.2 294.4 210.4 296.1 C 215.3 296.5 220.4 295.9 224.5 294.4" fill="none" stroke="#141414" stroke-width="1.26" />
<path d="M 177.1 281.6 C 182.8 283.7 188.9 286.3 194 288.3" fill="none" stroke="#141414" stroke-width="0.92" />
<path d="M 191.3 264.8 C 192.2 272.5 192.6 280.6 193.4 290 M 211.3 272.5 C 210.8 280.6 210.4 288.8 210.4 296.1 M 219.4 273.7 C 219.4 280.6 219.4 288.8 219.8 296.1" fill="none" stroke="#141414" stroke-width="1.15" />
<path d="M 180.8 283.7 C 179.8 288.8 178.8 292.8 177.9 296.5 M 197 291.2 C 196 298.9 195.4 305 195 312.1" fill="none" stroke="#141414" stroke-width="1.03" />
<ellipse cx="190.1" cy="298.1" rx="1.6" ry="2.4" fill="none" stroke="#141414" stroke-width="1.26" transform="rotate(-10 190.1 298.1)"/>
<path d="M 192.6 280.2 L 196.2 280.6 L 194.6 283.7 Z M 194.4 277.6 L 194.4 280.6" fill="none" stroke="#141414" stroke-width="1.03" />
<ellipse cx="215.3" cy="266.4" rx="1.4" ry="1.0" fill="none" stroke="#141414" stroke-width="1.15"/>
<ellipse cx="229.5" cy="260.3" rx="1.4" ry="1.0" fill="none" stroke="#141414" stroke-width="1.15"/>
<ellipse cx="247.0" cy="274.5" rx="6.5" ry="3.7" fill="#fff" stroke="#141414" stroke-width="1.26" transform="rotate(10 247.0 274.5)"/>
<ellipse cx="247.0" cy="274.7" rx="4.5" ry="2.4" fill="#bbb" stroke="#141414" stroke-width="1.15" transform="rotate(10 247.0 274.7)"/>
<ellipse cx="247.0" cy="274.9" rx="2.2" ry="1.2" fill="#fff" stroke="#141414" stroke-width="0.92" transform="rotate(10 247.0 274.9)"/>
<path d="M 253.9 277.6 L 260 279.6 M 254.3 274.9 L 260 276.6" fill="none" stroke="#141414" stroke-width="1.03" />
<path d="M 201.1 300.9 L 210.2 297.9 L 219.4 300.9 L 221.8 307 L 219.4 315.6 L 213.3 317.2 L 211.3 310.1 L 204.1 308.7 Z" fill="#fff" stroke="#141414" stroke-width="1.26" />
<path d="M 204.1 308.7 L 205.6 304.6 L 211.3 306 L 211.3 310.1 M 212.3 311.1 L 219.4 308 M 213.3 317.2 L 214.3 313.5" fill="none" stroke="#141414" stroke-width="1.15" />
<path d="M 202.1 305 L 208.2 307" fill="none" stroke="#333" stroke-width="2.07" />
<path d="M 225.5 293.8 L 243.8 298.9 L 243.8 311.1 C 242.7 319.2 240.7 325.3 238.7 329.4 C 239.7 333.8 235.6 336.5 231.6 335.5 C 228.5 334.5 227.1 331.4 227.9 327.8 L 224.7 315.6 L 223.4 300.9 Z" fill="#fff" stroke="#141414" stroke-width="1.49" />
<path d="M 227.9 327.8 C 229.9 331 234.6 331.8 238.7 329.4 M 226.5 307 C 229.5 311.1 235.6 314.1 242.7 313.5" fill="none" stroke="#141414" stroke-width="1.03" />
<path d="M 224.7 300.9 L 226.3 315.6 L 229.5 326.3" fill="none" stroke="#141414" stroke-width="0.92" />
<ellipse cx="235.6" cy="318.4" rx="1.2" ry="1.8" fill="none" stroke="#141414" stroke-width="1.26"/>
<path d="M 245.8 307 L 254.3 303.8 L 260 306.2 L 260 320.2 L 254.3 321.7 L 247 317.6 Z" fill="#fff" stroke="#141414" stroke-width="1.38" />
<path d="M 247 317.6 C 249.8 316.2 251.9 314.1 260 311.1" fill="none" stroke="#141414" stroke-width="0.92" />
<ellipse cx="254.3" cy="312.7" rx="1.4" ry="2.0" fill="none" stroke="#141414" stroke-width="1.26"/>
<path d="M 243.8 300.9 L 246.2 304.6 L 245.8 307" fill="none" stroke="#141414" stroke-width="1.03" />
<path d="M 231 255 C 232.4 256.5 236 261.3 239.4 264.2 C 242.8 267.1 247.8 270.7 251.6 272.3 C 255.4 273.9 260.3 273.7 262 274" fill="none" stroke="#141414" stroke-width="1.49" />
<ellipse cx="237.7" cy="266.8" rx="1.8" ry="1.0" fill="none" stroke="#141414" stroke-width="1.03" transform="rotate(10 237.7 266.8)"/>
<path d="M 219.4 274 L 217.5 296 M 222.5 274.6 L 220.6 297" fill="none" stroke="#141414" stroke-width="1.03" />
<path d="M 250 274 L 262 274 L 277 280 L 306 297.5 L 341 328.7 L 366 350 L 356 380 L 325 384 L 312 360 L 299 344 L 288 331 L 268 311 L 250 300 Z" fill="#fff" stroke="none" stroke-width="0.0" />
<path d="M 262 274 C 264.5 275 271.8 277.6 277 280 C 282.2 282.4 288.7 285.8 293.5 288.7 C 298.3 291.6 302.2 294.6 306 297.5 C 309.8 300.4 312.8 303.1 316 305.8 C 319.2 308.5 320.8 309.9 325 313.7 C 329.2 317.5 335.8 323.9 341 328.7 C 346.2 333.5 351.8 338.9 356 342.5 C 360.2 346.1 364.3 348.8 366 350" fill="none" stroke="#141414" stroke-width="1.49" />
<path d="M 264 276.5 C 266.2 277.4 272.2 279.6 277 282 C 281.8 284.4 288.3 287.8 293 290.7 C 297.7 293.6 299.8 295.3 305 299.5 C 310.2 303.7 318.2 310.5 324 315.7 C 329.8 320.9 334.8 325.9 340 330.7 C 345.2 335.5 351 340.9 355 344.5 C 359 348.1 362.5 350.8 364 352" fill="none" stroke="#141414" stroke-width="0.8" />
<path d="M 246 282 C 248.1 282.5 254.3 283.5 258.5 285 C 262.7 286.5 266.8 288.3 271 291 C 275.2 293.7 279.3 297.4 283.5 301 C 287.7 304.6 292.4 309.2 296 312.5 C 299.6 315.8 301.7 317.6 305 321 C 308.3 324.4 312.8 329.2 316 333 C 319.2 336.8 321.8 340.8 324 344 C 326.2 347.2 327 349.2 329 352.5 C 331 355.8 333.5 360.9 336 364 C 338.5 367.1 340.9 368.4 344 371 C 347.1 373.6 352.9 378.2 354.7 379.7" fill="none" stroke="#141414" stroke-width="1.61" />
<path d="M 246 285.6 C 248.1 286.1 254.6 287.1 258.5 288.7 C 262.4 290.3 265.8 292.3 269.7 295 C 273.6 297.7 278 301.2 282.2 305 C 286.4 308.8 291.4 314 294.7 317.5 C 298 321 299 322.8 302.2 326.2 C 305.4 329.6 310.6 334.2 313.7 338 C 316.8 341.8 318.6 344.5 321 348.7 C 323.4 352.9 324.8 358.4 328 363 C 331.2 367.6 335.8 372.2 340 376 C 344.2 379.8 350.8 384.3 353 386" fill="none" stroke="#141414" stroke-width="1.03" />
<path d="M 246 292 C 247.7 292.3 252.5 292.8 256 294 C 259.5 295.2 263.2 296.5 267 299 C 270.8 301.5 274.7 305.3 278.5 309 C 282.3 312.7 286.6 317.3 290 321 C 293.4 324.7 296.1 328.2 299 331 C 301.9 333.8 305.3 334.8 307.5 337.5 C 309.7 340.2 310.4 342.4 312 347 C 313.6 351.6 314.8 359.6 317 365 C 319.2 370.4 322.7 376.1 325 379.7 C 327.3 383.3 327.1 384.6 331 386.7 C 334.9 388.8 345.5 391.1 348.4 392" fill="none" stroke="#141414" stroke-width="1.15" />
<path d="M 268.5 311 C 270.2 312.5 275.1 316.6 278.5 320 C 281.9 323.4 285.5 327.5 289 331.5 C 292.5 335.5 296.7 340.9 299.5 344 C 302.3 347.1 303.8 347.3 306 350 C 308.2 352.7 310.3 356.2 312.5 360 C 314.7 363.8 316.9 368.6 319 372.5 C 321.1 376.4 324 381.8 325 383.6" fill="none" stroke="#141414" stroke-width="1.49" />
<path d="M 250 297 C 251.3 297.2 254.9 297.3 258 298.5 C 261.1 299.7 265.7 302.2 268.5 304 C 271.3 305.8 273.9 308.2 275 309" fill="none" stroke="#141414" stroke-width="1.15" />
<path d="M 252.2 285 L 251 288.7 M 262.2 286.9 L 259.7 290.6 M 279.7 296.9 L 277.2 300.6 M 295.4 311.9 L 299.7 317.5 L 304.7 321.2 M 302.9 325 L 299.7 337.5" fill="none" stroke="#141414" stroke-width="0.92" />
<path d="M 321 340 L 318 352 M 327 349 L 323 361 M 332 359 L 327 368" fill="none" stroke="#141414" stroke-width="0.92" />
<path d="M 272.5 308.7 L 275.7 308.1 L 274.7 311.5 Z" fill="none" stroke="#141414" stroke-width="1.03" />
<ellipse cx="289.7" cy="293.1" rx="2.8" ry="1.7" fill="none" stroke="#141414" stroke-width="1.03" transform="rotate(15 289.7 293.1)"/>
<ellipse cx="333.0" cy="337.5" rx="10.0" ry="5.6" fill="#fff" stroke="#141414" stroke-width="1.26" transform="rotate(12 333.0 337.5)"/>
<ellipse cx="333.5" cy="338.0" rx="7.5" ry="4.1" fill="none" stroke="#141414" stroke-width="1.03" transform="rotate(12 333.5 338.0)"/>
<ellipse cx="334.0" cy="338.8" rx="5.0" ry="2.7" fill="none" stroke="#141414" stroke-width="1.03" transform="rotate(12 334.0 338.8)"/>
<ellipse cx="334.5" cy="339.3" rx="2.3" ry="1.2" fill="none" stroke="#141414" stroke-width="0.92" transform="rotate(12 334.5 339.3)"/>
<ellipse cx="248.0" cy="274.4" rx="4.4" ry="2.0" fill="none" stroke="#141414" stroke-width="1.15" transform="rotate(10 248.0 274.4)"/>
<ellipse cx="248.0" cy="274.6" rx="2.2" ry="1.0" fill="none" stroke="#141414" stroke-width="0.92" transform="rotate(10 248.0 274.6)"/>
<ellipse cx="260.4" cy="277.2" rx="2.8" ry="1.4" fill="none" stroke="#141414" stroke-width="1.15" transform="rotate(10 260.4 277.2)"/>
<path d="M 219.5 279 C 221.6 279.7 227.6 281.9 232 283 C 236.4 284.1 243.7 285.2 246 285.6" fill="none" stroke="#141414" stroke-width="1.03" />
<path d="M 220 293.7 C 223.2 294.4 234.4 297.1 239.4 297.7 C 244.4 298.2 248.2 297.1 250 297" fill="none" stroke="#141414" stroke-width="1.26" />
<path d="M 451.8 302.3 L 467 301.9 L 477.2 317.6 L 465.4 320.6 L 453.2 306.8 Z" fill="#fff" stroke="#141414" stroke-width="1.38" />
<ellipse cx="465.4" cy="310.9" rx="2.2" ry="2.4" fill="none" stroke="#141414" stroke-width="1.15"/>
<path d="M 453.2 306.8 L 460.9 321.6 M 451.8 302.3 L 450.8 305.4" fill="none" stroke="#141414" stroke-width="1.15" />
<path d="M 477.2 317.6 L 479.6 323.1 L 489.4 335.3 L 488.6 345.4 L 479.6 347.8 L 478.2 338.9 Z" fill="#fff" stroke="#141414" stroke-width="1.38" />
<ellipse cx="483.9" cy="334.4" rx="1.6" ry="3.7" fill="none" stroke="#141414" stroke-width="1.15" transform="rotate(-20 483.9 334.4)"/>
<path d="M 482.3 333.2 L 485.3 337.3" fill="none" stroke="#333" stroke-width="1.84" />
<path d="M 460.9 321.6 L 466.2 320.6 L 478.4 338.9 L 477.6 347.4 L 461.3 351.5 L 458.9 340.9 Z" fill="#fff" stroke="#141414" stroke-width="1.38" />
<ellipse cx="470.3" cy="336.9" rx="2.0" ry="4.5" fill="none" stroke="#141414" stroke-width="1.26" transform="rotate(-25 470.3 336.9)"/>
<path d="M 468.7 334.4 L 472.1 339.9" fill="none" stroke="#333" stroke-width="2.07" />
<path d="M 465.4 320.6 L 460.9 321.6 M 463 325.7 L 465 333.2 M 460.9 330.8 L 466 333.2" fill="none" stroke="#141414" stroke-width="1.03" />
<path d="M 454.8 330.8 L 457.3 328.8 L 458.5 333.2 Z" fill="none" stroke="#141414" stroke-width="1.03" />
<path d="M 430.5 359.6 L 440.6 357.2 L 455.3 365.7 L 459.3 357.6 L 461.3 351.5 L 467 361.3 L 465 369.8 L 460.9 381.6 L 450 392.1 L 443.9 394.2 L 430.5 386 L 428.4 375.5 Z" fill="#fff" stroke="#141414" stroke-width="1.49" />
<path d="M 432.9 361.3 L 431.5 375.5 L 433.1 384 L 443.9 390.7 L 448.8 389.3 L 458.9 379.9" fill="none" stroke="#141414" stroke-width="0.92" />
<path d="M 440.6 357.2 L 441.6 345 L 453.2 340.9 L 459.3 357.6" fill="none" stroke="#141414" stroke-width="1.26" />
<path d="M 455.3 365.7 L 456.9 375.5 L 460.9 381.6 M 459.3 357.6 L 460.9 369.4" fill="none" stroke="#141414" stroke-width="1.03" />
<ellipse cx="442.7" cy="379.1" rx="2.0" ry="2.2" fill="none" stroke="#141414" stroke-width="1.26"/>
<ellipse cx="447.9" cy="349.1" rx="2.0" ry="3.7" fill="#333" stroke="#141414" stroke-width="1.15" transform="rotate(-30 447.9 349.1)"/>
<path d="M 443.7 347 C 444.7 344 449.8 343.4 452.4 346" fill="none" stroke="#141414" stroke-width="1.03" />
<path d="M 430.5 386 L 430.1 382.6 L 432.5 384.6 M 443.9 394.2 L 444.3 391.3" fill="none" stroke="#141414" stroke-width="1.03" />
<path d="M 467 361.3 L 473.5 361.7 L 481.3 365.3 L 489.4 367.3 L 495.9 369.4 L 493.8 381.6 L 489.4 384 C 486.3 380.5 483.3 379.1 480.2 379.9 C 476.2 381.6 473.1 385.6 469.1 386.6 C 465.4 386.6 462.6 384 460.9 381.6" fill="#fff" stroke="#141414" stroke-width="1.38" />
<path d="M 473.5 361.7 C 475.2 357.2 477.2 353.1 479.6 347.8 M 488.6 345.4 C 490.4 348 493.8 349.1 495.9 348.7 L 492.6 369.4 L 489.4 384" fill="none" stroke="#141414" stroke-width="1.26" />
<path d="M 499.5 347 L 496.5 369.4 L 493.8 381.6" fill="none" stroke="#141414" stroke-width="1.03" />
<ellipse cx="481.3" cy="373.0" rx="0.8" ry="1.0" fill="none" stroke="#141414" stroke-width="1.15"/>
<path d="M 481.3 365.3 L 481.7 369.4 L 489.4 371.4 L 489.4 367.3" fill="none" stroke="#141414" stroke-width="0.92" />
<path d="M 465 369.8 L 470.1 357.2 L 471.5 352.1" fill="none" stroke="#141414" stroke-width="1.03" />
<path d="M 477.2 317.6 C 481.3 320.6 487.3 325.7 491.4 330.8 L 493.4 336.5" fill="none" stroke="#141414" stroke-width="1.15" />
<path d="M 479.6 323.1 C 481.3 321.6 483.3 321.6 485.3 323.7" fill="none" stroke="#141414" stroke-width="0.92" />
</svg>
</body></html>
